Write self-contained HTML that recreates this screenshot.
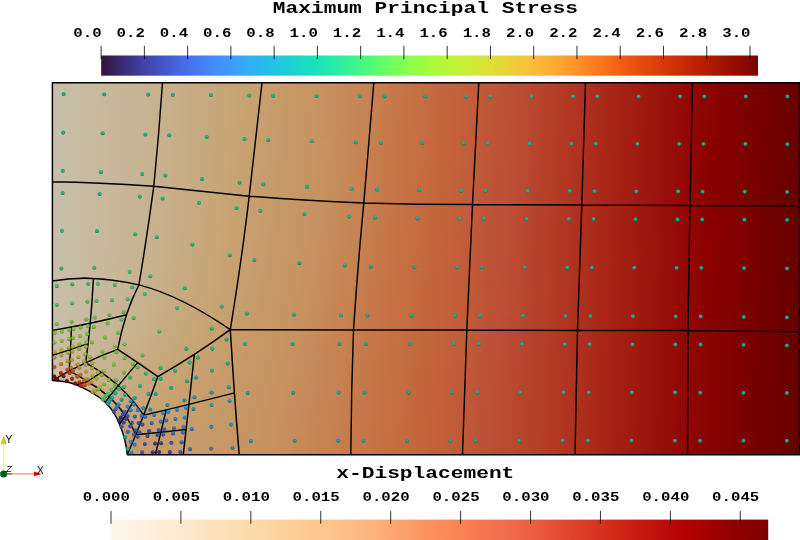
<!DOCTYPE html><html><head><meta charset="utf-8"><title>Maximum Principal Stress</title><style>html,body{margin:0;padding:0;background:#fff;overflow:hidden}svg{display:block}</style></head><body><svg width="800" height="540" viewBox="0 0 800 540">
<defs>
<linearGradient id="gt" x1="0" x2="1" y1="0" y2="0"><stop offset="0.0000" stop-color="#30123b"/><stop offset="0.0312" stop-color="#392a73"/><stop offset="0.0625" stop-color="#4040a2"/><stop offset="0.0938" stop-color="#4456c7"/><stop offset="0.1250" stop-color="#466be3"/><stop offset="0.1562" stop-color="#4680f6"/><stop offset="0.1875" stop-color="#4294ff"/><stop offset="0.2188" stop-color="#37a8fa"/><stop offset="0.2500" stop-color="#28bceb"/><stop offset="0.2812" stop-color="#1ccdd8"/><stop offset="0.3125" stop-color="#18ddc2"/><stop offset="0.3438" stop-color="#1fe9af"/><stop offset="0.3750" stop-color="#32f298"/><stop offset="0.4062" stop-color="#4ef97d"/><stop offset="0.4375" stop-color="#6dfe62"/><stop offset="0.4688" stop-color="#8bff4b"/><stop offset="0.5000" stop-color="#a4fc3c"/><stop offset="0.5312" stop-color="#b9f635"/><stop offset="0.5625" stop-color="#cdec34"/><stop offset="0.5938" stop-color="#dfdf37"/><stop offset="0.6250" stop-color="#eecf3a"/><stop offset="0.6562" stop-color="#f8be39"/><stop offset="0.6875" stop-color="#fdac34"/><stop offset="0.7188" stop-color="#fe962b"/><stop offset="0.7500" stop-color="#fb7e21"/><stop offset="0.7812" stop-color="#f46617"/><stop offset="0.8125" stop-color="#eb500e"/><stop offset="0.8438" stop-color="#df3f08"/><stop offset="0.8750" stop-color="#d02f05"/><stop offset="0.9062" stop-color="#be2102"/><stop offset="0.9375" stop-color="#a91601"/><stop offset="0.9688" stop-color="#920b01"/><stop offset="1.0000" stop-color="#7a0403"/></linearGradient>
<linearGradient id="go" x1="0" x2="1" y1="0" y2="0"><stop offset="0.0000" stop-color="#fff7ec"/><stop offset="0.0312" stop-color="#fff3e3"/><stop offset="0.0625" stop-color="#feefda"/><stop offset="0.0938" stop-color="#feecd1"/><stop offset="0.1250" stop-color="#fee8c8"/><stop offset="0.1562" stop-color="#fee3bd"/><stop offset="0.1875" stop-color="#fddeb3"/><stop offset="0.2188" stop-color="#fdd9a8"/><stop offset="0.2500" stop-color="#fdd49e"/><stop offset="0.2812" stop-color="#fdce97"/><stop offset="0.3125" stop-color="#fdc791"/><stop offset="0.3438" stop-color="#fdc18a"/><stop offset="0.3750" stop-color="#fdba83"/><stop offset="0.4062" stop-color="#fdaf79"/><stop offset="0.4375" stop-color="#fca36e"/><stop offset="0.4688" stop-color="#fc9863"/><stop offset="0.5000" stop-color="#fc8c59"/><stop offset="0.5312" stop-color="#f98254"/><stop offset="0.5625" stop-color="#f57850"/><stop offset="0.5938" stop-color="#f26e4c"/><stop offset="0.6250" stop-color="#ef6447"/><stop offset="0.6562" stop-color="#e9573d"/><stop offset="0.6875" stop-color="#e24933"/><stop offset="0.7188" stop-color="#dc3c28"/><stop offset="0.7500" stop-color="#d62f1e"/><stop offset="0.7812" stop-color="#cd2316"/><stop offset="0.8125" stop-color="#c4170f"/><stop offset="0.8438" stop-color="#bb0b07"/><stop offset="0.8750" stop-color="#b20000"/><stop offset="0.9062" stop-color="#a50000"/><stop offset="0.9375" stop-color="#970000"/><stop offset="0.9688" stop-color="#8a0000"/><stop offset="1.0000" stop-color="#7f0000"/></linearGradient>
<radialGradient id="sh" cx="0.5" cy="0.36" r="0.68" fx="0.5" fy="0.36"><stop offset="0" stop-color="#fff" stop-opacity="0.12"/><stop offset="0.4" stop-color="#fff" stop-opacity="0.0"/><stop offset="0.65" stop-color="#000" stop-opacity="0.08"/><stop offset="1" stop-color="#000" stop-opacity="0.42"/></radialGradient>
<clipPath id="plate"><path d="M52.40 82.80L805.00 82.80L805.00 454.70L127.30 454.70Q121.02 386.73 52.40 380.50Z"/></clipPath>
<linearGradient id="s0" gradientUnits="userSpaceOnUse" x1="52.4" x2="800.0" y1="0" y2="0"><stop offset="0.0000" stop-color="#c8beaa"/><stop offset="0.0319" stop-color="#c8bca4"/><stop offset="0.0638" stop-color="#c8b99e"/><stop offset="0.0956" stop-color="#c8b697"/><stop offset="0.1271" stop-color="#c7b391"/><stop offset="0.1585" stop-color="#c7af89"/><stop offset="0.1898" stop-color="#c7ab82"/><stop offset="0.2208" stop-color="#c7a77a"/><stop offset="0.2518" stop-color="#c7a472"/><stop offset="0.2827" stop-color="#c79f6e"/><stop offset="0.3136" stop-color="#c79968"/><stop offset="0.3445" stop-color="#c79564"/><stop offset="0.4065" stop-color="#c68757"/><stop offset="0.4687" stop-color="#c67547"/><stop offset="0.5314" stop-color="#c3643d"/><stop offset="0.5945" stop-color="#be5537"/><stop offset="0.6579" stop-color="#b7432c"/><stop offset="0.7217" stop-color="#ad2e1d"/><stop offset="0.7857" stop-color="#a11b10"/><stop offset="0.8499" stop-color="#930805"/><stop offset="0.9142" stop-color="#810000"/><stop offset="0.9786" stop-color="#6d0000"/><stop offset="1.0000" stop-color="#660000"/></linearGradient>
<linearGradient id="s1" gradientUnits="userSpaceOnUse" x1="52.4" x2="800.0" y1="0" y2="0"><stop offset="0.0000" stop-color="#c8beaa"/><stop offset="0.0319" stop-color="#c8bca4"/><stop offset="0.0638" stop-color="#c8b99e"/><stop offset="0.0955" stop-color="#c8b697"/><stop offset="0.1270" stop-color="#c7b391"/><stop offset="0.1584" stop-color="#c7af89"/><stop offset="0.1895" stop-color="#c7ab82"/><stop offset="0.2206" stop-color="#c7a77a"/><stop offset="0.2515" stop-color="#c7a472"/><stop offset="0.2823" stop-color="#c79f6e"/><stop offset="0.3132" stop-color="#c79968"/><stop offset="0.3440" stop-color="#c79564"/><stop offset="0.4059" stop-color="#c68757"/><stop offset="0.4682" stop-color="#c67547"/><stop offset="0.5308" stop-color="#c3643d"/><stop offset="0.5939" stop-color="#be5537"/><stop offset="0.6574" stop-color="#b7432c"/><stop offset="0.7212" stop-color="#ad2e1d"/><stop offset="0.7852" stop-color="#a11b10"/><stop offset="0.8495" stop-color="#930805"/><stop offset="0.9138" stop-color="#810000"/><stop offset="0.9783" stop-color="#6d0000"/><stop offset="1.0000" stop-color="#660000"/></linearGradient>
<linearGradient id="s2" gradientUnits="userSpaceOnUse" x1="52.4" x2="800.0" y1="0" y2="0"><stop offset="0.0000" stop-color="#c8beaa"/><stop offset="0.0319" stop-color="#c8bca4"/><stop offset="0.0637" stop-color="#c8b99e"/><stop offset="0.0954" stop-color="#c8b697"/><stop offset="0.1269" stop-color="#c7b391"/><stop offset="0.1582" stop-color="#c7af89"/><stop offset="0.1893" stop-color="#c7ab82"/><stop offset="0.2203" stop-color="#c7a77a"/><stop offset="0.2511" stop-color="#c7a472"/><stop offset="0.2819" stop-color="#c79f6e"/><stop offset="0.3127" stop-color="#c79968"/><stop offset="0.3435" stop-color="#c79564"/><stop offset="0.4053" stop-color="#c68757"/><stop offset="0.4676" stop-color="#c67547"/><stop offset="0.5302" stop-color="#c3643d"/><stop offset="0.5934" stop-color="#be5537"/><stop offset="0.6569" stop-color="#b7432c"/><stop offset="0.7207" stop-color="#ad2e1d"/><stop offset="0.7848" stop-color="#a11b10"/><stop offset="0.8491" stop-color="#930805"/><stop offset="0.9135" stop-color="#810000"/><stop offset="0.9780" stop-color="#6d0000"/><stop offset="1.0000" stop-color="#660000"/></linearGradient>
<linearGradient id="s3" gradientUnits="userSpaceOnUse" x1="52.4" x2="800.0" y1="0" y2="0"><stop offset="0.0000" stop-color="#c8beaa"/><stop offset="0.0319" stop-color="#c8bca4"/><stop offset="0.0637" stop-color="#c8b99e"/><stop offset="0.0954" stop-color="#c8b697"/><stop offset="0.1268" stop-color="#c7b391"/><stop offset="0.1580" stop-color="#c7af89"/><stop offset="0.1891" stop-color="#c7ab82"/><stop offset="0.2199" stop-color="#c7a77a"/><stop offset="0.2507" stop-color="#c7a472"/><stop offset="0.2815" stop-color="#c79f6e"/><stop offset="0.3122" stop-color="#c79968"/><stop offset="0.3429" stop-color="#c79564"/><stop offset="0.4047" stop-color="#c68757"/><stop offset="0.4669" stop-color="#c67547"/><stop offset="0.5296" stop-color="#c3643d"/><stop offset="0.5928" stop-color="#be5537"/><stop offset="0.6563" stop-color="#b7432c"/><stop offset="0.7202" stop-color="#ad2e1d"/><stop offset="0.7844" stop-color="#a11b10"/><stop offset="0.8487" stop-color="#930805"/><stop offset="0.9132" stop-color="#810000"/><stop offset="0.9777" stop-color="#6d0000"/><stop offset="1.0000" stop-color="#660000"/></linearGradient>
<linearGradient id="s4" gradientUnits="userSpaceOnUse" x1="52.4" x2="800.0" y1="0" y2="0"><stop offset="0.0000" stop-color="#c8beaa"/><stop offset="0.0319" stop-color="#c8bca4"/><stop offset="0.0637" stop-color="#c8b99e"/><stop offset="0.0953" stop-color="#c8b697"/><stop offset="0.1267" stop-color="#c7b391"/><stop offset="0.1578" stop-color="#c7af89"/><stop offset="0.1888" stop-color="#c7ab82"/><stop offset="0.2196" stop-color="#c7a77a"/><stop offset="0.2503" stop-color="#c7a472"/><stop offset="0.2810" stop-color="#c79e6d"/><stop offset="0.3116" stop-color="#c79968"/><stop offset="0.3424" stop-color="#c79564"/><stop offset="0.4041" stop-color="#c68757"/><stop offset="0.4663" stop-color="#c67547"/><stop offset="0.5290" stop-color="#c3643d"/><stop offset="0.5922" stop-color="#be5537"/><stop offset="0.6558" stop-color="#b7432c"/><stop offset="0.7197" stop-color="#ad2e1d"/><stop offset="0.7839" stop-color="#a11b10"/><stop offset="0.8483" stop-color="#930805"/><stop offset="0.9128" stop-color="#810000"/><stop offset="0.9774" stop-color="#6d0000"/><stop offset="1.0000" stop-color="#660000"/></linearGradient>
<linearGradient id="s5" gradientUnits="userSpaceOnUse" x1="52.4" x2="800.0" y1="0" y2="0"><stop offset="0.0000" stop-color="#c8beaa"/><stop offset="0.0319" stop-color="#c8bca4"/><stop offset="0.0636" stop-color="#c8b99e"/><stop offset="0.0952" stop-color="#c8b697"/><stop offset="0.1265" stop-color="#c7b391"/><stop offset="0.1576" stop-color="#c7af89"/><stop offset="0.1885" stop-color="#c7ab82"/><stop offset="0.2192" stop-color="#c7a77a"/><stop offset="0.2498" stop-color="#c7a472"/><stop offset="0.2804" stop-color="#c79e6d"/><stop offset="0.3110" stop-color="#c79968"/><stop offset="0.3417" stop-color="#c79564"/><stop offset="0.4034" stop-color="#c68757"/><stop offset="0.4656" stop-color="#c67547"/><stop offset="0.5283" stop-color="#c3643d"/><stop offset="0.5916" stop-color="#be5537"/><stop offset="0.6552" stop-color="#b7432c"/><stop offset="0.7192" stop-color="#ad2e1d"/><stop offset="0.7835" stop-color="#a11b10"/><stop offset="0.8479" stop-color="#930805"/><stop offset="0.9125" stop-color="#810000"/><stop offset="0.9771" stop-color="#6d0000"/><stop offset="1.0000" stop-color="#660000"/></linearGradient>
<linearGradient id="s6" gradientUnits="userSpaceOnUse" x1="52.4" x2="800.0" y1="0" y2="0"><stop offset="0.0000" stop-color="#c8beaa"/><stop offset="0.0318" stop-color="#c8bca4"/><stop offset="0.0636" stop-color="#c8b99e"/><stop offset="0.0951" stop-color="#c8b697"/><stop offset="0.1263" stop-color="#c7b391"/><stop offset="0.1574" stop-color="#c7af89"/><stop offset="0.1882" stop-color="#c7ab82"/><stop offset="0.2188" stop-color="#c7a77a"/><stop offset="0.2493" stop-color="#c7a472"/><stop offset="0.2799" stop-color="#c79e6d"/><stop offset="0.3104" stop-color="#c79968"/><stop offset="0.3410" stop-color="#c79564"/><stop offset="0.4027" stop-color="#c68757"/><stop offset="0.4648" stop-color="#c67547"/><stop offset="0.5276" stop-color="#c3643d"/><stop offset="0.5909" stop-color="#be5537"/><stop offset="0.6546" stop-color="#b7432c"/><stop offset="0.7187" stop-color="#ad2e1d"/><stop offset="0.7830" stop-color="#a11b10"/><stop offset="0.8475" stop-color="#930805"/><stop offset="0.9121" stop-color="#810000"/><stop offset="0.9768" stop-color="#6d0000"/><stop offset="1.0000" stop-color="#660000"/></linearGradient>
<linearGradient id="s7" gradientUnits="userSpaceOnUse" x1="52.4" x2="800.0" y1="0" y2="0"><stop offset="0.0000" stop-color="#c8beaa"/><stop offset="0.0318" stop-color="#c8bca4"/><stop offset="0.0635" stop-color="#c8b99e"/><stop offset="0.0950" stop-color="#c8b697"/><stop offset="0.1262" stop-color="#c7b391"/><stop offset="0.1571" stop-color="#c7af89"/><stop offset="0.1878" stop-color="#c7ab82"/><stop offset="0.2183" stop-color="#c7a77a"/><stop offset="0.2488" stop-color="#c7a472"/><stop offset="0.2793" stop-color="#c79e6d"/><stop offset="0.3097" stop-color="#c79968"/><stop offset="0.3403" stop-color="#c79564"/><stop offset="0.3710" stop-color="#c7905f"/><stop offset="0.4329" stop-color="#c67e4f"/><stop offset="0.4954" stop-color="#c66c40"/><stop offset="0.5585" stop-color="#c15d3a"/><stop offset="0.6221" stop-color="#bb4d33"/><stop offset="0.6861" stop-color="#b23824"/><stop offset="0.7503" stop-color="#a82416"/><stop offset="0.8148" stop-color="#9a120b"/><stop offset="0.8794" stop-color="#8b0000"/><stop offset="0.9441" stop-color="#770000"/><stop offset="1.0000" stop-color="#660000"/></linearGradient>
<linearGradient id="s8" gradientUnits="userSpaceOnUse" x1="52.4" x2="800.0" y1="0" y2="0"><stop offset="0.0000" stop-color="#c8beaa"/><stop offset="0.0318" stop-color="#c8bca4"/><stop offset="0.0634" stop-color="#c8b99e"/><stop offset="0.0948" stop-color="#c8b697"/><stop offset="0.1259" stop-color="#c7b391"/><stop offset="0.1568" stop-color="#c7af89"/><stop offset="0.1874" stop-color="#c7ab82"/><stop offset="0.2178" stop-color="#c7a77a"/><stop offset="0.2482" stop-color="#c7a472"/><stop offset="0.2786" stop-color="#c79e6d"/><stop offset="0.3090" stop-color="#c79968"/><stop offset="0.3396" stop-color="#c79564"/><stop offset="0.3702" stop-color="#c7905f"/><stop offset="0.4321" stop-color="#c67e4f"/><stop offset="0.4946" stop-color="#c66c40"/><stop offset="0.5578" stop-color="#c15d3a"/><stop offset="0.6215" stop-color="#bb4d33"/><stop offset="0.6855" stop-color="#b23824"/><stop offset="0.7498" stop-color="#a82416"/><stop offset="0.8144" stop-color="#9a120b"/><stop offset="0.8790" stop-color="#8b0000"/><stop offset="0.9438" stop-color="#770000"/><stop offset="1.0000" stop-color="#660000"/></linearGradient>
<linearGradient id="s9" gradientUnits="userSpaceOnUse" x1="52.4" x2="800.0" y1="0" y2="0"><stop offset="0.0000" stop-color="#c8beaa"/><stop offset="0.0318" stop-color="#c8bca4"/><stop offset="0.0634" stop-color="#c8b99e"/><stop offset="0.0947" stop-color="#c8b697"/><stop offset="0.1257" stop-color="#c7b391"/><stop offset="0.1565" stop-color="#c7af89"/><stop offset="0.1870" stop-color="#c7ab82"/><stop offset="0.2173" stop-color="#c7a77a"/><stop offset="0.2476" stop-color="#c7a372"/><stop offset="0.2779" stop-color="#c79e6d"/><stop offset="0.3083" stop-color="#c79968"/><stop offset="0.3388" stop-color="#c79564"/><stop offset="0.3694" stop-color="#c7905f"/><stop offset="0.4313" stop-color="#c67e4f"/><stop offset="0.4938" stop-color="#c66c40"/><stop offset="0.5571" stop-color="#c15d3a"/><stop offset="0.6208" stop-color="#bb4d33"/><stop offset="0.6849" stop-color="#b23824"/><stop offset="0.7493" stop-color="#a82416"/><stop offset="0.8139" stop-color="#9a120b"/><stop offset="0.8787" stop-color="#8b0000"/><stop offset="0.9435" stop-color="#770000"/><stop offset="1.0000" stop-color="#660000"/></linearGradient>
<linearGradient id="s10" gradientUnits="userSpaceOnUse" x1="52.4" x2="800.0" y1="0" y2="0"><stop offset="0.0000" stop-color="#c8beaa"/><stop offset="0.0317" stop-color="#c8bca4"/><stop offset="0.0633" stop-color="#c8b99e"/><stop offset="0.0945" stop-color="#c8b697"/><stop offset="0.1255" stop-color="#c7b391"/><stop offset="0.1561" stop-color="#c7af89"/><stop offset="0.1865" stop-color="#c7ab82"/><stop offset="0.2167" stop-color="#c7a77a"/><stop offset="0.2469" stop-color="#c7a372"/><stop offset="0.2771" stop-color="#c79e6d"/><stop offset="0.3074" stop-color="#c79968"/><stop offset="0.3379" stop-color="#c79564"/><stop offset="0.3685" stop-color="#c7905f"/><stop offset="0.4304" stop-color="#c67e4f"/><stop offset="0.4930" stop-color="#c66c40"/><stop offset="0.5563" stop-color="#c15d3a"/><stop offset="0.6201" stop-color="#bb4d33"/><stop offset="0.6843" stop-color="#b23824"/><stop offset="0.7488" stop-color="#a82416"/><stop offset="0.8135" stop-color="#9a120b"/><stop offset="0.8783" stop-color="#8b0000"/><stop offset="0.9431" stop-color="#770000"/><stop offset="1.0000" stop-color="#650000"/></linearGradient>
<linearGradient id="s11" gradientUnits="userSpaceOnUse" x1="52.4" x2="800.0" y1="0" y2="0"><stop offset="0.0000" stop-color="#c8beaa"/><stop offset="0.0317" stop-color="#c8bca4"/><stop offset="0.0632" stop-color="#c8b99e"/><stop offset="0.0943" stop-color="#c8b697"/><stop offset="0.1252" stop-color="#c7b391"/><stop offset="0.1557" stop-color="#c7af89"/><stop offset="0.1860" stop-color="#c7ab82"/><stop offset="0.2161" stop-color="#c7a77a"/><stop offset="0.2462" stop-color="#c7a372"/><stop offset="0.2763" stop-color="#c79e6d"/><stop offset="0.3066" stop-color="#c79968"/><stop offset="0.3370" stop-color="#c79564"/><stop offset="0.3676" stop-color="#c7905f"/><stop offset="0.4295" stop-color="#c67e4f"/><stop offset="0.4922" stop-color="#c66c40"/><stop offset="0.5555" stop-color="#c15d3a"/><stop offset="0.6195" stop-color="#bb4d33"/><stop offset="0.6838" stop-color="#b23824"/><stop offset="0.7483" stop-color="#a82416"/><stop offset="0.8131" stop-color="#9a120b"/><stop offset="0.8779" stop-color="#8b0000"/><stop offset="0.9428" stop-color="#770000"/><stop offset="1.0000" stop-color="#650000"/></linearGradient>
<linearGradient id="s12" gradientUnits="userSpaceOnUse" x1="52.4" x2="800.0" y1="0" y2="0"><stop offset="0.0000" stop-color="#c8beaa"/><stop offset="0.0316" stop-color="#c8bca4"/><stop offset="0.0631" stop-color="#c8b99e"/><stop offset="0.0941" stop-color="#c8b697"/><stop offset="0.1249" stop-color="#c7b391"/><stop offset="0.1552" stop-color="#c7af89"/><stop offset="0.1854" stop-color="#c7ab82"/><stop offset="0.2154" stop-color="#c7a77a"/><stop offset="0.2454" stop-color="#c7a372"/><stop offset="0.2754" stop-color="#c79e6d"/><stop offset="0.3056" stop-color="#c79968"/><stop offset="0.3360" stop-color="#c79564"/><stop offset="0.3666" stop-color="#c7905f"/><stop offset="0.4285" stop-color="#c67e4f"/><stop offset="0.4913" stop-color="#c66c40"/><stop offset="0.5547" stop-color="#c15d3a"/><stop offset="0.6188" stop-color="#bb4d33"/><stop offset="0.6831" stop-color="#b23824"/><stop offset="0.7478" stop-color="#a82416"/><stop offset="0.8126" stop-color="#9a120b"/><stop offset="0.8775" stop-color="#8b0000"/><stop offset="0.9425" stop-color="#770000"/><stop offset="1.0000" stop-color="#650000"/></linearGradient>
<linearGradient id="s13" gradientUnits="userSpaceOnUse" x1="52.4" x2="800.0" y1="0" y2="0"><stop offset="0.0000" stop-color="#c8beaa"/><stop offset="0.0316" stop-color="#c8bca4"/><stop offset="0.0629" stop-color="#c8b99e"/><stop offset="0.0939" stop-color="#c8b697"/><stop offset="0.1245" stop-color="#c7b391"/><stop offset="0.1547" stop-color="#c7af89"/><stop offset="0.1847" stop-color="#c7ab82"/><stop offset="0.2146" stop-color="#c7a77a"/><stop offset="0.2445" stop-color="#c7a372"/><stop offset="0.2745" stop-color="#c79e6d"/><stop offset="0.3046" stop-color="#c79968"/><stop offset="0.3350" stop-color="#c79564"/><stop offset="0.3656" stop-color="#c7905f"/><stop offset="0.4275" stop-color="#c67e4f"/><stop offset="0.4903" stop-color="#c66c40"/><stop offset="0.5539" stop-color="#c15d3a"/><stop offset="0.6180" stop-color="#bb4d33"/><stop offset="0.6825" stop-color="#b23824"/><stop offset="0.7473" stop-color="#a82416"/><stop offset="0.8122" stop-color="#9a120b"/><stop offset="0.8771" stop-color="#8b0000"/><stop offset="0.9421" stop-color="#770000"/><stop offset="1.0000" stop-color="#650000"/></linearGradient>
<linearGradient id="s14" gradientUnits="userSpaceOnUse" x1="52.4" x2="800.0" y1="0" y2="0"><stop offset="0.0000" stop-color="#c8beaa"/><stop offset="0.0315" stop-color="#c8bca4"/><stop offset="0.0628" stop-color="#c8b99e"/><stop offset="0.0937" stop-color="#c8b697"/><stop offset="0.1241" stop-color="#c7b391"/><stop offset="0.1542" stop-color="#c7af89"/><stop offset="0.1840" stop-color="#c7ab82"/><stop offset="0.2138" stop-color="#c7a779"/><stop offset="0.2436" stop-color="#c7a372"/><stop offset="0.2734" stop-color="#c79e6d"/><stop offset="0.3035" stop-color="#c79968"/><stop offset="0.3338" stop-color="#c79564"/><stop offset="0.3644" stop-color="#c7905f"/><stop offset="0.4264" stop-color="#c67e4f"/><stop offset="0.4894" stop-color="#c66c40"/><stop offset="0.5531" stop-color="#c15d3a"/><stop offset="0.6173" stop-color="#bb4d33"/><stop offset="0.6819" stop-color="#b23824"/><stop offset="0.7468" stop-color="#a82416"/><stop offset="0.8117" stop-color="#9a120b"/><stop offset="0.8768" stop-color="#8b0000"/><stop offset="0.9418" stop-color="#780000"/><stop offset="1.0000" stop-color="#650000"/></linearGradient>
<linearGradient id="s15" gradientUnits="userSpaceOnUse" x1="52.4" x2="800.0" y1="0" y2="0"><stop offset="0.0000" stop-color="#c8beaa"/><stop offset="0.0314" stop-color="#c8bca4"/><stop offset="0.0626" stop-color="#c8b99e"/><stop offset="0.0934" stop-color="#c8b697"/><stop offset="0.1237" stop-color="#c7b391"/><stop offset="0.1536" stop-color="#c7af89"/><stop offset="0.1833" stop-color="#c7ab82"/><stop offset="0.2129" stop-color="#c7a779"/><stop offset="0.2425" stop-color="#c7a372"/><stop offset="0.2723" stop-color="#c79e6d"/><stop offset="0.3024" stop-color="#c79968"/><stop offset="0.3327" stop-color="#c79564"/><stop offset="0.3633" stop-color="#c7905f"/><stop offset="0.4253" stop-color="#c67e4f"/><stop offset="0.4884" stop-color="#c66c40"/><stop offset="0.5522" stop-color="#c15d3a"/><stop offset="0.6166" stop-color="#bb4d33"/><stop offset="0.6813" stop-color="#b23824"/><stop offset="0.7462" stop-color="#a82416"/><stop offset="0.8113" stop-color="#9a120b"/><stop offset="0.8764" stop-color="#8b0000"/><stop offset="0.9415" stop-color="#780000"/><stop offset="1.0000" stop-color="#650000"/></linearGradient>
<linearGradient id="s16" gradientUnits="userSpaceOnUse" x1="52.4" x2="800.0" y1="0" y2="0"><stop offset="0.0000" stop-color="#c8beaa"/><stop offset="0.0314" stop-color="#c8bca4"/><stop offset="0.0624" stop-color="#c8b99e"/><stop offset="0.0930" stop-color="#c8b697"/><stop offset="0.1232" stop-color="#c7b391"/><stop offset="0.1529" stop-color="#c7af89"/><stop offset="0.1824" stop-color="#c7ab82"/><stop offset="0.2119" stop-color="#c7a779"/><stop offset="0.2414" stop-color="#c7a372"/><stop offset="0.2711" stop-color="#c79e6d"/><stop offset="0.3011" stop-color="#c79968"/><stop offset="0.3314" stop-color="#c79564"/><stop offset="0.3620" stop-color="#c7905f"/><stop offset="0.4242" stop-color="#c67e4f"/><stop offset="0.4874" stop-color="#c66c40"/><stop offset="0.5513" stop-color="#c15d3a"/><stop offset="0.6158" stop-color="#bb4d33"/><stop offset="0.6807" stop-color="#b23824"/><stop offset="0.7457" stop-color="#a82416"/><stop offset="0.8108" stop-color="#9a120b"/><stop offset="0.8760" stop-color="#8b0000"/><stop offset="0.9412" stop-color="#780000"/><stop offset="1.0000" stop-color="#650000"/></linearGradient>
<linearGradient id="s17" gradientUnits="userSpaceOnUse" x1="52.4" x2="800.0" y1="0" y2="0"><stop offset="0.0000" stop-color="#c8beaa"/><stop offset="0.0313" stop-color="#c8bca4"/><stop offset="0.0622" stop-color="#c8b99e"/><stop offset="0.0926" stop-color="#c8b697"/><stop offset="0.1226" stop-color="#c7b391"/><stop offset="0.1521" stop-color="#c7af89"/><stop offset="0.1815" stop-color="#c7ab82"/><stop offset="0.2108" stop-color="#c7a779"/><stop offset="0.2402" stop-color="#c7a372"/><stop offset="0.2698" stop-color="#c79e6d"/><stop offset="0.2998" stop-color="#c79968"/><stop offset="0.3301" stop-color="#c79564"/><stop offset="0.3607" stop-color="#c7905f"/><stop offset="0.4230" stop-color="#c67e4f"/><stop offset="0.4863" stop-color="#c66c40"/><stop offset="0.5504" stop-color="#c15d3a"/><stop offset="0.6151" stop-color="#bb4d33"/><stop offset="0.6800" stop-color="#b23824"/><stop offset="0.7452" stop-color="#a82416"/><stop offset="0.8104" stop-color="#9a120b"/><stop offset="0.8756" stop-color="#8d0000"/><stop offset="0.9409" stop-color="#780000"/><stop offset="1.0000" stop-color="#650000"/></linearGradient>
<linearGradient id="s18" gradientUnits="userSpaceOnUse" x1="52.4" x2="800.0" y1="0" y2="0"><stop offset="0.0000" stop-color="#c8beaa"/><stop offset="0.0311" stop-color="#c8bca4"/><stop offset="0.0619" stop-color="#c8b99e"/><stop offset="0.0922" stop-color="#c8b697"/><stop offset="0.1219" stop-color="#c7b391"/><stop offset="0.1513" stop-color="#c7af89"/><stop offset="0.1804" stop-color="#c7ab82"/><stop offset="0.2096" stop-color="#c7a779"/><stop offset="0.2389" stop-color="#c7a372"/><stop offset="0.2685" stop-color="#c79e6d"/><stop offset="0.2984" stop-color="#c79968"/><stop offset="0.3287" stop-color="#c79564"/><stop offset="0.3593" stop-color="#c7905f"/><stop offset="0.4217" stop-color="#c67e4f"/><stop offset="0.4852" stop-color="#c66c40"/><stop offset="0.5495" stop-color="#c15d3a"/><stop offset="0.6143" stop-color="#bb4d33"/><stop offset="0.6794" stop-color="#b23824"/><stop offset="0.7446" stop-color="#a82416"/><stop offset="0.8099" stop-color="#9a120b"/><stop offset="0.8753" stop-color="#8d0000"/><stop offset="0.9406" stop-color="#780000"/><stop offset="1.0000" stop-color="#650000"/></linearGradient>
<linearGradient id="s19" gradientUnits="userSpaceOnUse" x1="52.4" x2="800.0" y1="0" y2="0"><stop offset="0.0000" stop-color="#c8beaa"/><stop offset="0.0311" stop-color="#c8bca4"/><stop offset="0.0617" stop-color="#c8b99e"/><stop offset="0.0918" stop-color="#c8b697"/><stop offset="0.1214" stop-color="#c7b391"/><stop offset="0.1506" stop-color="#c7af89"/><stop offset="0.1796" stop-color="#c7ab81"/><stop offset="0.2086" stop-color="#c7a779"/><stop offset="0.2378" stop-color="#c7a372"/><stop offset="0.2673" stop-color="#c79e6d"/><stop offset="0.2972" stop-color="#c79968"/><stop offset="0.3275" stop-color="#c79564"/><stop offset="0.3582" stop-color="#c7905f"/><stop offset="0.4207" stop-color="#c67e4f"/><stop offset="0.4844" stop-color="#c66c40"/><stop offset="0.5488" stop-color="#c15d3a"/><stop offset="0.6137" stop-color="#bb4d33"/><stop offset="0.6789" stop-color="#b23824"/><stop offset="0.7442" stop-color="#a82416"/><stop offset="0.8096" stop-color="#9b130b"/><stop offset="0.8750" stop-color="#8d0000"/><stop offset="0.9403" stop-color="#780000"/><stop offset="1.0000" stop-color="#650000"/></linearGradient>
<linearGradient id="s20" gradientUnits="userSpaceOnUse" x1="52.4" x2="800.0" y1="0" y2="0"><stop offset="0.0000" stop-color="#c8beaa"/><stop offset="0.0310" stop-color="#c8bca4"/><stop offset="0.0616" stop-color="#c8b99e"/><stop offset="0.0916" stop-color="#c8b697"/><stop offset="0.1210" stop-color="#c7b391"/><stop offset="0.1501" stop-color="#c7af89"/><stop offset="0.1790" stop-color="#c7ab81"/><stop offset="0.2079" stop-color="#c7a779"/><stop offset="0.2371" stop-color="#c7a372"/><stop offset="0.2666" stop-color="#c79e6d"/><stop offset="0.2964" stop-color="#c79968"/><stop offset="0.3268" stop-color="#c79564"/><stop offset="0.3575" stop-color="#c7905f"/><stop offset="0.4201" stop-color="#c67e4f"/><stop offset="0.4838" stop-color="#c66c40"/><stop offset="0.5483" stop-color="#c15d3a"/><stop offset="0.6133" stop-color="#bb4d33"/><stop offset="0.6786" stop-color="#b23824"/><stop offset="0.7440" stop-color="#a82416"/><stop offset="0.8094" stop-color="#9b130b"/><stop offset="0.8748" stop-color="#8d0000"/><stop offset="0.9402" stop-color="#780000"/><stop offset="1.0000" stop-color="#650000"/></linearGradient>
<linearGradient id="s21" gradientUnits="userSpaceOnUse" x1="52.4" x2="800.0" y1="0" y2="0"><stop offset="0.0000" stop-color="#c8beaa"/><stop offset="0.0309" stop-color="#c8bca4"/><stop offset="0.0614" stop-color="#c8b99e"/><stop offset="0.0913" stop-color="#c8b697"/><stop offset="0.1206" stop-color="#c7b391"/><stop offset="0.1496" stop-color="#c7af89"/><stop offset="0.1783" stop-color="#c7ab81"/><stop offset="0.2072" stop-color="#c7a779"/><stop offset="0.2363" stop-color="#c7a372"/><stop offset="0.2658" stop-color="#c79e6d"/><stop offset="0.2956" stop-color="#c79968"/><stop offset="0.3260" stop-color="#c79564"/><stop offset="0.3567" stop-color="#c7905f"/><stop offset="0.4194" stop-color="#c67e4f"/><stop offset="0.4832" stop-color="#c66c40"/><stop offset="0.5479" stop-color="#c15d3a"/><stop offset="0.6129" stop-color="#bb4d33"/><stop offset="0.6783" stop-color="#b23824"/><stop offset="0.7437" stop-color="#a82416"/><stop offset="0.8092" stop-color="#9b130b"/><stop offset="0.8746" stop-color="#8d0000"/><stop offset="0.9400" stop-color="#780000"/><stop offset="1.0000" stop-color="#650000"/></linearGradient>
<linearGradient id="s22" gradientUnits="userSpaceOnUse" x1="52.4" x2="800.0" y1="0" y2="0"><stop offset="0.0000" stop-color="#c8beaa"/><stop offset="0.0308" stop-color="#c8bca4"/><stop offset="0.0612" stop-color="#c8b99e"/><stop offset="0.0910" stop-color="#c8b697"/><stop offset="0.1202" stop-color="#c7b391"/><stop offset="0.1490" stop-color="#c7af89"/><stop offset="0.1777" stop-color="#c7ab81"/><stop offset="0.2064" stop-color="#c7a779"/><stop offset="0.2355" stop-color="#c7a372"/><stop offset="0.2649" stop-color="#c79e6d"/><stop offset="0.2948" stop-color="#c79968"/><stop offset="0.3251" stop-color="#c79564"/><stop offset="0.3559" stop-color="#c7905f"/><stop offset="0.4187" stop-color="#c67e4f"/><stop offset="0.4827" stop-color="#c66c40"/><stop offset="0.5474" stop-color="#c15d3a"/><stop offset="0.6126" stop-color="#bb4d33"/><stop offset="0.6780" stop-color="#b23824"/><stop offset="0.7435" stop-color="#a82416"/><stop offset="0.8090" stop-color="#9b130b"/><stop offset="0.8745" stop-color="#8d0000"/><stop offset="0.9399" stop-color="#780000"/><stop offset="1.0000" stop-color="#650000"/></linearGradient>
<linearGradient id="s23" gradientUnits="userSpaceOnUse" x1="52.4" x2="800.0" y1="0" y2="0"><stop offset="0.0000" stop-color="#c8beaa"/><stop offset="0.0307" stop-color="#c8bca4"/><stop offset="0.0610" stop-color="#c8b99e"/><stop offset="0.0907" stop-color="#c8b697"/><stop offset="0.1197" stop-color="#c7b391"/><stop offset="0.1484" stop-color="#c7af89"/><stop offset="0.1770" stop-color="#c7ab81"/><stop offset="0.2056" stop-color="#c7a779"/><stop offset="0.2346" stop-color="#c7a372"/><stop offset="0.2640" stop-color="#c79e6d"/><stop offset="0.2939" stop-color="#c79968"/><stop offset="0.3243" stop-color="#c79564"/><stop offset="0.3551" stop-color="#c7905f"/><stop offset="0.4180" stop-color="#c67e4f"/><stop offset="0.4821" stop-color="#c66c40"/><stop offset="0.5469" stop-color="#c15d3a"/><stop offset="0.6122" stop-color="#bb4d33"/><stop offset="0.6776" stop-color="#b23824"/><stop offset="0.7432" stop-color="#a92517"/><stop offset="0.8088" stop-color="#9b130b"/><stop offset="0.8743" stop-color="#8d0000"/><stop offset="0.9397" stop-color="#780000"/><stop offset="1.0000" stop-color="#650000"/></linearGradient>
<linearGradient id="s24" gradientUnits="userSpaceOnUse" x1="52.4" x2="800.0" y1="0" y2="0"><stop offset="0.0000" stop-color="#c8beaa"/><stop offset="0.0306" stop-color="#c8bca4"/><stop offset="0.0608" stop-color="#c8b99e"/><stop offset="0.0903" stop-color="#c8b697"/><stop offset="0.1192" stop-color="#c7b391"/><stop offset="0.1478" stop-color="#c7af89"/><stop offset="0.1762" stop-color="#c7ab81"/><stop offset="0.2048" stop-color="#c7a779"/><stop offset="0.2337" stop-color="#c7a372"/><stop offset="0.2631" stop-color="#c79e6d"/><stop offset="0.2930" stop-color="#c79968"/><stop offset="0.3234" stop-color="#c79564"/><stop offset="0.3543" stop-color="#c7905f"/><stop offset="0.4173" stop-color="#c67e4f"/><stop offset="0.4815" stop-color="#c66c40"/><stop offset="0.5464" stop-color="#c15d3a"/><stop offset="0.6118" stop-color="#bb4d33"/><stop offset="0.6773" stop-color="#b23824"/><stop offset="0.7429" stop-color="#a92517"/><stop offset="0.8085" stop-color="#9b130b"/><stop offset="0.8741" stop-color="#8d0000"/><stop offset="0.9396" stop-color="#780000"/><stop offset="1.0000" stop-color="#650000"/></linearGradient>
<linearGradient id="s25" gradientUnits="userSpaceOnUse" x1="52.4" x2="800.0" y1="0" y2="0"><stop offset="0.0000" stop-color="#c8beaa"/><stop offset="0.0305" stop-color="#c8bca4"/><stop offset="0.0606" stop-color="#c8b99e"/><stop offset="0.0899" stop-color="#c8b697"/><stop offset="0.1187" stop-color="#c7b391"/><stop offset="0.1471" stop-color="#c7af89"/><stop offset="0.1754" stop-color="#c7ab81"/><stop offset="0.2039" stop-color="#c7a779"/><stop offset="0.2328" stop-color="#c7a372"/><stop offset="0.2622" stop-color="#c79e6d"/><stop offset="0.2921" stop-color="#c79968"/><stop offset="0.3225" stop-color="#c79564"/><stop offset="0.3534" stop-color="#c7905f"/><stop offset="0.4165" stop-color="#c67e4f"/><stop offset="0.4809" stop-color="#c66c40"/><stop offset="0.5459" stop-color="#c15d3a"/><stop offset="0.6114" stop-color="#bb4d33"/><stop offset="0.6770" stop-color="#b23824"/><stop offset="0.7427" stop-color="#a92517"/><stop offset="0.8083" stop-color="#9b130b"/><stop offset="0.8739" stop-color="#8d0000"/><stop offset="0.9394" stop-color="#780000"/><stop offset="1.0000" stop-color="#650000"/></linearGradient>
<linearGradient id="s26" gradientUnits="userSpaceOnUse" x1="52.4" x2="800.0" y1="0" y2="0"><stop offset="0.0000" stop-color="#c8beaa"/><stop offset="0.0304" stop-color="#c8bca4"/><stop offset="0.0603" stop-color="#c8b99e"/><stop offset="0.0895" stop-color="#c8b697"/><stop offset="0.1181" stop-color="#c7b391"/><stop offset="0.1464" stop-color="#c7af89"/><stop offset="0.1746" stop-color="#c7ab81"/><stop offset="0.2030" stop-color="#c7a779"/><stop offset="0.2319" stop-color="#c7a372"/><stop offset="0.2612" stop-color="#c79e6d"/><stop offset="0.2911" stop-color="#c79968"/><stop offset="0.3216" stop-color="#c79564"/><stop offset="0.3526" stop-color="#c7905f"/><stop offset="0.4158" stop-color="#c67e4f"/><stop offset="0.4803" stop-color="#c66c40"/><stop offset="0.5454" stop-color="#c15d3a"/><stop offset="0.6110" stop-color="#bb4d33"/><stop offset="0.6767" stop-color="#b23824"/><stop offset="0.7424" stop-color="#a92517"/><stop offset="0.8081" stop-color="#9b130b"/><stop offset="0.8738" stop-color="#8d0000"/><stop offset="0.9393" stop-color="#780000"/><stop offset="1.0000" stop-color="#650000"/></linearGradient>
<linearGradient id="s27" gradientUnits="userSpaceOnUse" x1="52.4" x2="800.0" y1="0" y2="0"><stop offset="0.0000" stop-color="#c8beaa"/><stop offset="0.0303" stop-color="#c8bca4"/><stop offset="0.0600" stop-color="#c8b99e"/><stop offset="0.0891" stop-color="#c8b697"/><stop offset="0.1175" stop-color="#c7b391"/><stop offset="0.1456" stop-color="#c7af89"/><stop offset="0.1737" stop-color="#c7ab81"/><stop offset="0.2021" stop-color="#c7a779"/><stop offset="0.2309" stop-color="#c7a372"/><stop offset="0.2602" stop-color="#c79e6d"/><stop offset="0.2901" stop-color="#c79968"/><stop offset="0.3206" stop-color="#c79564"/><stop offset="0.3517" stop-color="#c7905f"/><stop offset="0.4150" stop-color="#c67e4f"/><stop offset="0.4796" stop-color="#c66c40"/><stop offset="0.5449" stop-color="#c15d3a"/><stop offset="0.6106" stop-color="#bb4d33"/><stop offset="0.6764" stop-color="#b23824"/><stop offset="0.7422" stop-color="#a92517"/><stop offset="0.8079" stop-color="#9b130b"/><stop offset="0.8736" stop-color="#8d0000"/><stop offset="0.9392" stop-color="#780000"/><stop offset="1.0000" stop-color="#650000"/></linearGradient>
<linearGradient id="s28" gradientUnits="userSpaceOnUse" x1="52.4" x2="800.0" y1="0" y2="0"><stop offset="0.0000" stop-color="#c8beaa"/><stop offset="0.0301" stop-color="#c8bca4"/><stop offset="0.0597" stop-color="#c8b99e"/><stop offset="0.0886" stop-color="#c8b697"/><stop offset="0.1169" stop-color="#c7b391"/><stop offset="0.1448" stop-color="#c7af88"/><stop offset="0.1728" stop-color="#c7ab81"/><stop offset="0.2011" stop-color="#c7a779"/><stop offset="0.2298" stop-color="#c7a372"/><stop offset="0.2591" stop-color="#c79e6d"/><stop offset="0.2891" stop-color="#c79968"/><stop offset="0.3196" stop-color="#c79564"/><stop offset="0.3507" stop-color="#c7905f"/><stop offset="0.4143" stop-color="#c67e4f"/><stop offset="0.4790" stop-color="#c66c40"/><stop offset="0.5444" stop-color="#c15d3a"/><stop offset="0.6102" stop-color="#bb4d33"/><stop offset="0.6761" stop-color="#b23a25"/><stop offset="0.7419" stop-color="#a92517"/><stop offset="0.8077" stop-color="#9b130b"/><stop offset="0.8734" stop-color="#8d0000"/><stop offset="0.9390" stop-color="#780000"/><stop offset="1.0000" stop-color="#650000"/></linearGradient>
<linearGradient id="s29" gradientUnits="userSpaceOnUse" x1="52.4" x2="800.0" y1="0" y2="0"><stop offset="0.0000" stop-color="#c8beaa"/><stop offset="0.0300" stop-color="#c8bca4"/><stop offset="0.0594" stop-color="#c8b99e"/><stop offset="0.0881" stop-color="#c8b697"/><stop offset="0.1162" stop-color="#c7b391"/><stop offset="0.1440" stop-color="#c7af88"/><stop offset="0.1718" stop-color="#c7ab81"/><stop offset="0.2000" stop-color="#c7a779"/><stop offset="0.2287" stop-color="#c7a372"/><stop offset="0.2580" stop-color="#c79e6d"/><stop offset="0.2880" stop-color="#c79968"/><stop offset="0.3186" stop-color="#c79564"/><stop offset="0.3498" stop-color="#c7905f"/><stop offset="0.4135" stop-color="#c67e4f"/><stop offset="0.4784" stop-color="#c66c40"/><stop offset="0.5439" stop-color="#c15d3a"/><stop offset="0.6098" stop-color="#bb4d33"/><stop offset="0.6757" stop-color="#b23a25"/><stop offset="0.7417" stop-color="#a92517"/><stop offset="0.8075" stop-color="#9b130b"/><stop offset="0.8732" stop-color="#8d0000"/><stop offset="0.9389" stop-color="#780000"/><stop offset="1.0000" stop-color="#650000"/></linearGradient>
<linearGradient id="s30" gradientUnits="userSpaceOnUse" x1="52.4" x2="800.0" y1="0" y2="0"><stop offset="0.0000" stop-color="#c8beaa"/><stop offset="0.0298" stop-color="#c8bca4"/><stop offset="0.0590" stop-color="#c8b99e"/><stop offset="0.0875" stop-color="#c8b697"/><stop offset="0.1154" stop-color="#c7b391"/><stop offset="0.1431" stop-color="#c7af88"/><stop offset="0.1708" stop-color="#c7ab81"/><stop offset="0.1989" stop-color="#c7a779"/><stop offset="0.2276" stop-color="#c7a372"/><stop offset="0.2569" stop-color="#c79e6d"/><stop offset="0.2869" stop-color="#c79968"/><stop offset="0.3176" stop-color="#c79564"/><stop offset="0.3488" stop-color="#c7905f"/><stop offset="0.4127" stop-color="#c67e4f"/><stop offset="0.4778" stop-color="#c66c40"/><stop offset="0.5434" stop-color="#c15d3a"/><stop offset="0.6094" stop-color="#bb4d33"/><stop offset="0.6754" stop-color="#b23a25"/><stop offset="0.7414" stop-color="#a92517"/><stop offset="0.8073" stop-color="#9b130b"/><stop offset="0.8731" stop-color="#8d0000"/><stop offset="0.9387" stop-color="#780000"/><stop offset="1.0000" stop-color="#650000"/></linearGradient>
<linearGradient id="s31" gradientUnits="userSpaceOnUse" x1="52.4" x2="800.0" y1="0" y2="0"><stop offset="0.0000" stop-color="#c8beaa"/><stop offset="0.0296" stop-color="#c8bca4"/><stop offset="0.0587" stop-color="#c8b99e"/><stop offset="0.0869" stop-color="#c8b697"/><stop offset="0.1147" stop-color="#c7b391"/><stop offset="0.1421" stop-color="#c7af88"/><stop offset="0.1697" stop-color="#c7ab81"/><stop offset="0.1977" stop-color="#c7a779"/><stop offset="0.2264" stop-color="#c7a372"/><stop offset="0.2557" stop-color="#c79e6d"/><stop offset="0.2857" stop-color="#c79968"/><stop offset="0.3165" stop-color="#c79564"/><stop offset="0.3478" stop-color="#c7905f"/><stop offset="0.4119" stop-color="#c67e4f"/><stop offset="0.4771" stop-color="#c66c40"/><stop offset="0.5429" stop-color="#c15d3a"/><stop offset="0.6090" stop-color="#bb4d33"/><stop offset="0.6751" stop-color="#b23a25"/><stop offset="0.7412" stop-color="#a92517"/><stop offset="0.8071" stop-color="#9b130b"/><stop offset="0.8729" stop-color="#8d0000"/><stop offset="0.9386" stop-color="#780000"/><stop offset="1.0000" stop-color="#650000"/></linearGradient>
<linearGradient id="s32" gradientUnits="userSpaceOnUse" x1="52.4" x2="800.0" y1="0" y2="0"><stop offset="0.0000" stop-color="#c8beaa"/><stop offset="0.0294" stop-color="#c8bca4"/><stop offset="0.0582" stop-color="#c8b99e"/><stop offset="0.0863" stop-color="#c8b697"/><stop offset="0.1138" stop-color="#c7b391"/><stop offset="0.1411" stop-color="#c7af88"/><stop offset="0.1686" stop-color="#c7ab81"/><stop offset="0.1965" stop-color="#c7a779"/><stop offset="0.2251" stop-color="#c7a372"/><stop offset="0.2544" stop-color="#c79e6d"/><stop offset="0.2846" stop-color="#c79968"/><stop offset="0.3154" stop-color="#c79564"/><stop offset="0.3468" stop-color="#c7905f"/><stop offset="0.4111" stop-color="#c67e4f"/><stop offset="0.4765" stop-color="#c66c40"/><stop offset="0.5424" stop-color="#c15d3a"/><stop offset="0.6086" stop-color="#bb4d33"/><stop offset="0.6748" stop-color="#b23a25"/><stop offset="0.7409" stop-color="#a92517"/><stop offset="0.8069" stop-color="#9b130b"/><stop offset="0.8728" stop-color="#8d0000"/><stop offset="0.9385" stop-color="#780000"/><stop offset="1.0000" stop-color="#640000"/></linearGradient>
<linearGradient id="s33" gradientUnits="userSpaceOnUse" x1="52.4" x2="800.0" y1="0" y2="0"><stop offset="0.0000" stop-color="#c8beaa"/><stop offset="0.0292" stop-color="#c8bca4"/><stop offset="0.0578" stop-color="#c8b99e"/><stop offset="0.0856" stop-color="#c8b697"/><stop offset="0.1129" stop-color="#c7b391"/><stop offset="0.1400" stop-color="#c7af88"/><stop offset="0.1674" stop-color="#c7ab81"/><stop offset="0.1952" stop-color="#c7a779"/><stop offset="0.2238" stop-color="#c7a372"/><stop offset="0.2532" stop-color="#c79e6d"/><stop offset="0.2833" stop-color="#c79968"/><stop offset="0.3142" stop-color="#c79564"/><stop offset="0.3458" stop-color="#c7905f"/><stop offset="0.4102" stop-color="#c67e4f"/><stop offset="0.4758" stop-color="#c66c40"/><stop offset="0.5419" stop-color="#c15d3a"/><stop offset="0.6082" stop-color="#bc4e34"/><stop offset="0.6745" stop-color="#b23a25"/><stop offset="0.7407" stop-color="#a92517"/><stop offset="0.8067" stop-color="#9b130b"/><stop offset="0.8726" stop-color="#8d0000"/><stop offset="0.9383" stop-color="#780000"/><stop offset="1.0000" stop-color="#640000"/></linearGradient>
<linearGradient id="s34" gradientUnits="userSpaceOnUse" x1="52.4" x2="800.0" y1="0" y2="0"><stop offset="0.0000" stop-color="#c8beaa"/><stop offset="0.0289" stop-color="#c8bca4"/><stop offset="0.0573" stop-color="#c8b99e"/><stop offset="0.0849" stop-color="#c8b697"/><stop offset="0.1120" stop-color="#c7b391"/><stop offset="0.1389" stop-color="#c7af88"/><stop offset="0.1661" stop-color="#c7ab81"/><stop offset="0.1939" stop-color="#c7a779"/><stop offset="0.2224" stop-color="#c7a372"/><stop offset="0.2518" stop-color="#c79e6d"/><stop offset="0.2821" stop-color="#c79968"/><stop offset="0.3131" stop-color="#c79564"/><stop offset="0.3447" stop-color="#c7905f"/><stop offset="0.4094" stop-color="#c67e4f"/><stop offset="0.4752" stop-color="#c66c40"/><stop offset="0.5414" stop-color="#c15d3a"/><stop offset="0.6078" stop-color="#bc4e34"/><stop offset="0.6742" stop-color="#b23a25"/><stop offset="0.7404" stop-color="#a92517"/><stop offset="0.8065" stop-color="#9b130b"/><stop offset="0.8724" stop-color="#8d0000"/><stop offset="0.9382" stop-color="#780000"/><stop offset="1.0000" stop-color="#640000"/></linearGradient>
<linearGradient id="s35" gradientUnits="userSpaceOnUse" x1="52.4" x2="800.0" y1="0" y2="0"><stop offset="0.0000" stop-color="#c8beaa"/><stop offset="0.0286" stop-color="#c8bca4"/><stop offset="0.0567" stop-color="#c8b99e"/><stop offset="0.0841" stop-color="#c8b697"/><stop offset="0.1109" stop-color="#c7b391"/><stop offset="0.1377" stop-color="#c7af88"/><stop offset="0.1648" stop-color="#c7ab81"/><stop offset="0.1925" stop-color="#c7a779"/><stop offset="0.2210" stop-color="#c7a372"/><stop offset="0.2504" stop-color="#c79e6d"/><stop offset="0.2807" stop-color="#c79968"/><stop offset="0.3118" stop-color="#c79564"/><stop offset="0.3436" stop-color="#c7905f"/><stop offset="0.4085" stop-color="#c67e4f"/><stop offset="0.4745" stop-color="#c66c40"/><stop offset="0.5409" stop-color="#c15d3a"/><stop offset="0.6075" stop-color="#bc4e34"/><stop offset="0.6739" stop-color="#b23a25"/><stop offset="0.7402" stop-color="#a92517"/><stop offset="0.8063" stop-color="#9b130b"/><stop offset="0.8723" stop-color="#8d0000"/><stop offset="0.9381" stop-color="#780000"/><stop offset="1.0000" stop-color="#640000"/></linearGradient>
<linearGradient id="s36" gradientUnits="userSpaceOnUse" x1="52.4" x2="800.0" y1="0" y2="0"><stop offset="0.0000" stop-color="#c8beaa"/><stop offset="0.0283" stop-color="#c8bca4"/><stop offset="0.0561" stop-color="#c8b99e"/><stop offset="0.0832" stop-color="#c8b697"/><stop offset="0.1098" stop-color="#c7b391"/><stop offset="0.1364" stop-color="#c7af88"/><stop offset="0.1633" stop-color="#c7ab81"/><stop offset="0.1910" stop-color="#c7a779"/><stop offset="0.2195" stop-color="#c7a372"/><stop offset="0.2490" stop-color="#c79e6d"/><stop offset="0.2794" stop-color="#c79968"/><stop offset="0.3106" stop-color="#c79564"/><stop offset="0.3425" stop-color="#c7905f"/><stop offset="0.4077" stop-color="#c67e4f"/><stop offset="0.4739" stop-color="#c66c40"/><stop offset="0.5404" stop-color="#c15d3a"/><stop offset="0.6071" stop-color="#bc4e34"/><stop offset="0.6736" stop-color="#b23a25"/><stop offset="0.7400" stop-color="#a92517"/><stop offset="0.8061" stop-color="#9b130b"/><stop offset="0.8721" stop-color="#8d0000"/><stop offset="0.9380" stop-color="#780000"/><stop offset="1.0000" stop-color="#640000"/></linearGradient>
<linearGradient id="s37" gradientUnits="userSpaceOnUse" x1="52.4" x2="800.0" y1="0" y2="0"><stop offset="0.0000" stop-color="#c8beaa"/><stop offset="0.0280" stop-color="#c8bca4"/><stop offset="0.0554" stop-color="#c8b99e"/><stop offset="0.0822" stop-color="#c8b697"/><stop offset="0.1086" stop-color="#c7b390"/><stop offset="0.1350" stop-color="#c7af88"/><stop offset="0.1618" stop-color="#c7ab81"/><stop offset="0.1894" stop-color="#c7a779"/><stop offset="0.2179" stop-color="#c7a372"/><stop offset="0.2475" stop-color="#c79e6d"/><stop offset="0.2780" stop-color="#c79968"/><stop offset="0.3093" stop-color="#c79564"/><stop offset="0.3413" stop-color="#c7905f"/><stop offset="0.4068" stop-color="#c67e4f"/><stop offset="0.4732" stop-color="#c66c40"/><stop offset="0.5399" stop-color="#c15e3a"/><stop offset="0.6067" stop-color="#bc4e34"/><stop offset="0.6733" stop-color="#b23a25"/><stop offset="0.7397" stop-color="#a92517"/><stop offset="0.8060" stop-color="#9b130b"/><stop offset="0.8720" stop-color="#8d0000"/><stop offset="0.9378" stop-color="#780000"/><stop offset="1.0000" stop-color="#640000"/></linearGradient>
<linearGradient id="s38" gradientUnits="userSpaceOnUse" x1="52.4" x2="800.0" y1="0" y2="0"><stop offset="0.0000" stop-color="#c8beaa"/><stop offset="0.0276" stop-color="#c8bca4"/><stop offset="0.0547" stop-color="#c8b99e"/><stop offset="0.0812" stop-color="#c8b697"/><stop offset="0.1073" stop-color="#c7b390"/><stop offset="0.1335" stop-color="#c7af88"/><stop offset="0.1602" stop-color="#c7ab81"/><stop offset="0.1877" stop-color="#c7a779"/><stop offset="0.2163" stop-color="#c7a372"/><stop offset="0.2459" stop-color="#c79e6d"/><stop offset="0.2765" stop-color="#c79968"/><stop offset="0.3080" stop-color="#c79564"/><stop offset="0.3402" stop-color="#c7905f"/><stop offset="0.4059" stop-color="#c67e4f"/><stop offset="0.4725" stop-color="#c66c40"/><stop offset="0.5395" stop-color="#c15e3a"/><stop offset="0.6063" stop-color="#bc4e34"/><stop offset="0.6730" stop-color="#b23a25"/><stop offset="0.7395" stop-color="#a92517"/><stop offset="0.8058" stop-color="#9b130b"/><stop offset="0.8718" stop-color="#8d0000"/><stop offset="0.9377" stop-color="#780000"/><stop offset="1.0000" stop-color="#640000"/></linearGradient>
<linearGradient id="s39" gradientUnits="userSpaceOnUse" x1="52.4" x2="800.0" y1="0" y2="0"><stop offset="0.0000" stop-color="#c8beaa"/><stop offset="0.0272" stop-color="#c8bca4"/><stop offset="0.0539" stop-color="#c8b99e"/><stop offset="0.0801" stop-color="#c8b697"/><stop offset="0.1060" stop-color="#c7b390"/><stop offset="0.1320" stop-color="#c7af88"/><stop offset="0.1585" stop-color="#c7ab81"/><stop offset="0.1860" stop-color="#c7a779"/><stop offset="0.2146" stop-color="#c7a372"/><stop offset="0.2442" stop-color="#c79e6d"/><stop offset="0.2750" stop-color="#c79968"/><stop offset="0.3066" stop-color="#c79564"/><stop offset="0.3390" stop-color="#c7905f"/><stop offset="0.4050" stop-color="#c67e4f"/><stop offset="0.4719" stop-color="#c66c40"/><stop offset="0.5390" stop-color="#c15e3a"/><stop offset="0.6060" stop-color="#bc4e34"/><stop offset="0.6727" stop-color="#b23a25"/><stop offset="0.7393" stop-color="#a92517"/><stop offset="0.8056" stop-color="#9b130b"/><stop offset="0.8717" stop-color="#8d0000"/><stop offset="0.9376" stop-color="#780000"/><stop offset="1.0000" stop-color="#640000"/></linearGradient>
<linearGradient id="s40" gradientUnits="userSpaceOnUse" x1="52.4" x2="800.0" y1="0" y2="0"><stop offset="0.0000" stop-color="#c8beaa"/><stop offset="0.0267" stop-color="#c8bca4"/><stop offset="0.0530" stop-color="#c8b99e"/><stop offset="0.0789" stop-color="#c8b697"/><stop offset="0.1045" stop-color="#c7b390"/><stop offset="0.1303" stop-color="#c7af88"/><stop offset="0.1567" stop-color="#c7ab81"/><stop offset="0.1842" stop-color="#c7a779"/><stop offset="0.2128" stop-color="#c7a372"/><stop offset="0.2425" stop-color="#c79e6d"/><stop offset="0.2734" stop-color="#c79968"/><stop offset="0.3053" stop-color="#c79564"/><stop offset="0.3378" stop-color="#c7905f"/><stop offset="0.3708" stop-color="#c68757"/><stop offset="0.4376" stop-color="#c67547"/><stop offset="0.5049" stop-color="#c3653d"/><stop offset="0.5721" stop-color="#be5637"/><stop offset="0.6391" stop-color="#b7442d"/><stop offset="0.7058" stop-color="#ae301e"/><stop offset="0.7723" stop-color="#a21c11"/><stop offset="0.8385" stop-color="#940906"/><stop offset="0.9045" stop-color="#820000"/><stop offset="0.9704" stop-color="#6e0000"/><stop offset="1.0000" stop-color="#640000"/></linearGradient>
<linearGradient id="s41" gradientUnits="userSpaceOnUse" x1="52.4" x2="800.0" y1="0" y2="0"><stop offset="0.0000" stop-color="#c8beaa"/><stop offset="0.0262" stop-color="#c8bca4"/><stop offset="0.0521" stop-color="#c8b99e"/><stop offset="0.0776" stop-color="#c8b697"/><stop offset="0.1029" stop-color="#c7b390"/><stop offset="0.1285" stop-color="#c7af88"/><stop offset="0.1548" stop-color="#c7ab81"/><stop offset="0.1822" stop-color="#c7a779"/><stop offset="0.2109" stop-color="#c7a372"/><stop offset="0.2408" stop-color="#c79e6d"/><stop offset="0.2718" stop-color="#c79968"/><stop offset="0.3038" stop-color="#c79564"/><stop offset="0.3365" stop-color="#c7905f"/><stop offset="0.3697" stop-color="#c68757"/><stop offset="0.4368" stop-color="#c67547"/><stop offset="0.5043" stop-color="#c3653d"/><stop offset="0.5716" stop-color="#be5637"/><stop offset="0.6387" stop-color="#b7442d"/><stop offset="0.7056" stop-color="#ae301e"/><stop offset="0.7721" stop-color="#a21c11"/><stop offset="0.8384" stop-color="#940906"/><stop offset="0.9044" stop-color="#820000"/><stop offset="0.9703" stop-color="#6e0000"/><stop offset="1.0000" stop-color="#640000"/></linearGradient>
<linearGradient id="s42" gradientUnits="userSpaceOnUse" x1="52.4" x2="800.0" y1="0" y2="0"><stop offset="0.0000" stop-color="#c8beaa"/><stop offset="0.0256" stop-color="#c8bca4"/><stop offset="0.0510" stop-color="#c8b99e"/><stop offset="0.0761" stop-color="#c8b697"/><stop offset="0.1012" stop-color="#c7b390"/><stop offset="0.1266" stop-color="#c7af88"/><stop offset="0.1528" stop-color="#c7ab81"/><stop offset="0.1802" stop-color="#c7a779"/><stop offset="0.2089" stop-color="#c7a372"/><stop offset="0.2389" stop-color="#c79e6d"/><stop offset="0.2702" stop-color="#c79968"/><stop offset="0.3024" stop-color="#c79564"/><stop offset="0.3353" stop-color="#c7905f"/><stop offset="0.3686" stop-color="#c68757"/><stop offset="0.4361" stop-color="#c67547"/><stop offset="0.5037" stop-color="#c3653d"/><stop offset="0.5712" stop-color="#be5637"/><stop offset="0.6384" stop-color="#b7442d"/><stop offset="0.7053" stop-color="#ae301e"/><stop offset="0.7719" stop-color="#a21c11"/><stop offset="0.8382" stop-color="#940906"/><stop offset="0.9043" stop-color="#820000"/><stop offset="0.9702" stop-color="#6e0000"/><stop offset="1.0000" stop-color="#640000"/></linearGradient>
<linearGradient id="s43" gradientUnits="userSpaceOnUse" x1="52.4" x2="800.0" y1="0" y2="0"><stop offset="0.0000" stop-color="#c8beaa"/><stop offset="0.0250" stop-color="#c8bca4"/><stop offset="0.0498" stop-color="#c8b99e"/><stop offset="0.0746" stop-color="#c8b596"/><stop offset="0.0993" stop-color="#c7b390"/><stop offset="0.1246" stop-color="#c7af88"/><stop offset="0.1507" stop-color="#c7ab81"/><stop offset="0.1780" stop-color="#c7a779"/><stop offset="0.2068" stop-color="#c7a372"/><stop offset="0.2370" stop-color="#c79e6d"/><stop offset="0.2684" stop-color="#c79968"/><stop offset="0.3009" stop-color="#c79564"/><stop offset="0.3340" stop-color="#c7905f"/><stop offset="0.3675" stop-color="#c68757"/><stop offset="0.4353" stop-color="#c67547"/><stop offset="0.5032" stop-color="#c3653d"/><stop offset="0.5708" stop-color="#be5637"/><stop offset="0.6381" stop-color="#b7442d"/><stop offset="0.7051" stop-color="#ae301e"/><stop offset="0.7717" stop-color="#a21c11"/><stop offset="0.8381" stop-color="#940906"/><stop offset="0.9042" stop-color="#820000"/><stop offset="0.9701" stop-color="#6e0000"/><stop offset="1.0000" stop-color="#640000"/></linearGradient>
<linearGradient id="s44" gradientUnits="userSpaceOnUse" x1="52.4" x2="800.0" y1="0" y2="0"><stop offset="0.0000" stop-color="#c8beaa"/><stop offset="0.0243" stop-color="#c8bba3"/><stop offset="0.0486" stop-color="#c8b89d"/><stop offset="0.0729" stop-color="#c8b596"/><stop offset="0.0974" stop-color="#c7b390"/><stop offset="0.1224" stop-color="#c7af88"/><stop offset="0.1484" stop-color="#c7ab81"/><stop offset="0.1757" stop-color="#c7a779"/><stop offset="0.2046" stop-color="#c7a372"/><stop offset="0.2350" stop-color="#c79e6d"/><stop offset="0.2666" stop-color="#c79968"/><stop offset="0.2993" stop-color="#c79564"/><stop offset="0.3327" stop-color="#c7905f"/><stop offset="0.3664" stop-color="#c68757"/><stop offset="0.4345" stop-color="#c67648"/><stop offset="0.5026" stop-color="#c3653d"/><stop offset="0.5704" stop-color="#be5637"/><stop offset="0.6378" stop-color="#b7442d"/><stop offset="0.7048" stop-color="#ae301e"/><stop offset="0.7715" stop-color="#a21c11"/><stop offset="0.8379" stop-color="#940906"/><stop offset="0.9041" stop-color="#820000"/><stop offset="0.9700" stop-color="#6e0000"/><stop offset="1.0000" stop-color="#640000"/></linearGradient>
<linearGradient id="s45" gradientUnits="userSpaceOnUse" x1="52.4" x2="800.0" y1="0" y2="0"><stop offset="0.0000" stop-color="#c8beaa"/><stop offset="0.0235" stop-color="#c8bba3"/><stop offset="0.0471" stop-color="#c8b89d"/><stop offset="0.0710" stop-color="#c8b596"/><stop offset="0.0952" stop-color="#c7b390"/><stop offset="0.1200" stop-color="#c7af88"/><stop offset="0.1460" stop-color="#c7ab81"/><stop offset="0.1733" stop-color="#c7a779"/><stop offset="0.2023" stop-color="#c7a372"/><stop offset="0.2329" stop-color="#c79e6d"/><stop offset="0.2648" stop-color="#c79968"/><stop offset="0.2977" stop-color="#c79564"/><stop offset="0.3313" stop-color="#c7905f"/><stop offset="0.3653" stop-color="#c68757"/><stop offset="0.4337" stop-color="#c67648"/><stop offset="0.5021" stop-color="#c3653d"/><stop offset="0.5700" stop-color="#be5637"/><stop offset="0.6375" stop-color="#b7442d"/><stop offset="0.7046" stop-color="#ae301e"/><stop offset="0.7714" stop-color="#a21c11"/><stop offset="0.8378" stop-color="#940906"/><stop offset="0.9040" stop-color="#820000"/><stop offset="0.9699" stop-color="#6e0000"/><stop offset="1.0000" stop-color="#640000"/></linearGradient>
<linearGradient id="s46" gradientUnits="userSpaceOnUse" x1="52.4" x2="800.0" y1="0" y2="0"><stop offset="0.0000" stop-color="#c8beaa"/><stop offset="0.0226" stop-color="#c8bba3"/><stop offset="0.0456" stop-color="#c8b89d"/><stop offset="0.0690" stop-color="#c8b596"/><stop offset="0.0929" stop-color="#c7b390"/><stop offset="0.1175" stop-color="#c7af88"/><stop offset="0.1434" stop-color="#c7ab81"/><stop offset="0.1707" stop-color="#c7a779"/><stop offset="0.1999" stop-color="#c7a372"/><stop offset="0.2307" stop-color="#c79e6d"/><stop offset="0.2629" stop-color="#c79968"/><stop offset="0.2961" stop-color="#c79564"/><stop offset="0.3300" stop-color="#c7905f"/><stop offset="0.3642" stop-color="#c68757"/><stop offset="0.4330" stop-color="#c67648"/><stop offset="0.5015" stop-color="#c3653d"/><stop offset="0.5696" stop-color="#be5637"/><stop offset="0.6372" stop-color="#b7442d"/><stop offset="0.7044" stop-color="#ae301e"/><stop offset="0.7712" stop-color="#a21c11"/><stop offset="0.8377" stop-color="#940906"/><stop offset="0.9038" stop-color="#820000"/><stop offset="0.9698" stop-color="#6e0000"/><stop offset="1.0000" stop-color="#640000"/></linearGradient>
<linearGradient id="s47" gradientUnits="userSpaceOnUse" x1="52.4" x2="800.0" y1="0" y2="0"><stop offset="0.0000" stop-color="#c8beaa"/><stop offset="0.0217" stop-color="#c8bba3"/><stop offset="0.0439" stop-color="#c8b89d"/><stop offset="0.0667" stop-color="#c8b596"/><stop offset="0.0903" stop-color="#c7b390"/><stop offset="0.1148" stop-color="#c7af88"/><stop offset="0.1406" stop-color="#c7ab81"/><stop offset="0.1680" stop-color="#c7a779"/><stop offset="0.1973" stop-color="#c7a372"/><stop offset="0.2284" stop-color="#c79e6d"/><stop offset="0.2609" stop-color="#c79968"/><stop offset="0.2945" stop-color="#c79564"/><stop offset="0.3286" stop-color="#c7905f"/><stop offset="0.3631" stop-color="#c68757"/><stop offset="0.4322" stop-color="#c67648"/><stop offset="0.5010" stop-color="#c3653d"/><stop offset="0.5692" stop-color="#be5637"/><stop offset="0.6370" stop-color="#b7442d"/><stop offset="0.7042" stop-color="#ae301e"/><stop offset="0.7710" stop-color="#a21c11"/><stop offset="0.8375" stop-color="#940906"/><stop offset="0.9037" stop-color="#820000"/><stop offset="0.9697" stop-color="#6e0000"/><stop offset="1.0000" stop-color="#640000"/></linearGradient>
<linearGradient id="s48" gradientUnits="userSpaceOnUse" x1="52.4" x2="800.0" y1="0" y2="0"><stop offset="0.0000" stop-color="#c8beaa"/><stop offset="0.0206" stop-color="#c8bba3"/><stop offset="0.0420" stop-color="#c8b89d"/><stop offset="0.0643" stop-color="#c8b596"/><stop offset="0.0875" stop-color="#c7b390"/><stop offset="0.1119" stop-color="#c7af88"/><stop offset="0.1376" stop-color="#c7ab81"/><stop offset="0.1651" stop-color="#c7a779"/><stop offset="0.1946" stop-color="#c7a372"/><stop offset="0.2260" stop-color="#c79e6d"/><stop offset="0.2589" stop-color="#c79968"/><stop offset="0.2928" stop-color="#c79564"/><stop offset="0.3272" stop-color="#c7905f"/><stop offset="0.3619" stop-color="#c68757"/><stop offset="0.4314" stop-color="#c67648"/><stop offset="0.5005" stop-color="#c3653d"/><stop offset="0.5689" stop-color="#be5637"/><stop offset="0.6367" stop-color="#b7442d"/><stop offset="0.7040" stop-color="#ae301e"/><stop offset="0.7709" stop-color="#a21c11"/><stop offset="0.8374" stop-color="#940906"/><stop offset="0.9036" stop-color="#820000"/><stop offset="0.9696" stop-color="#6e0000"/><stop offset="1.0000" stop-color="#640000"/></linearGradient>
<linearGradient id="s49" gradientUnits="userSpaceOnUse" x1="52.4" x2="800.0" y1="0" y2="0"><stop offset="0.0000" stop-color="#c8beaa"/><stop offset="0.0195" stop-color="#c8bba3"/><stop offset="0.0399" stop-color="#c8b89d"/><stop offset="0.0615" stop-color="#c8b596"/><stop offset="0.0845" stop-color="#c7b390"/><stop offset="0.1087" stop-color="#c7af88"/><stop offset="0.1344" stop-color="#c7ab81"/><stop offset="0.1620" stop-color="#c7a779"/><stop offset="0.1918" stop-color="#c7a372"/><stop offset="0.2235" stop-color="#c79e6d"/><stop offset="0.2568" stop-color="#c79968"/><stop offset="0.2910" stop-color="#c79564"/><stop offset="0.3258" stop-color="#c7905f"/><stop offset="0.3608" stop-color="#c68858"/><stop offset="0.4307" stop-color="#c67648"/><stop offset="0.4999" stop-color="#c3653d"/><stop offset="0.5685" stop-color="#be5637"/><stop offset="0.6364" stop-color="#b7442d"/><stop offset="0.7038" stop-color="#ae301e"/><stop offset="0.7707" stop-color="#a21c11"/><stop offset="0.8373" stop-color="#940906"/><stop offset="0.9035" stop-color="#820000"/><stop offset="0.9696" stop-color="#6e0000"/><stop offset="1.0000" stop-color="#640000"/></linearGradient>
<linearGradient id="s50" gradientUnits="userSpaceOnUse" x1="52.4" x2="800.0" y1="0" y2="0"><stop offset="0.0000" stop-color="#c8beaa"/><stop offset="0.0183" stop-color="#c8bba3"/><stop offset="0.0376" stop-color="#c8b89d"/><stop offset="0.0585" stop-color="#c8b596"/><stop offset="0.0811" stop-color="#c7b390"/><stop offset="0.1052" stop-color="#c7af88"/><stop offset="0.1309" stop-color="#c7ab81"/><stop offset="0.1587" stop-color="#c7a779"/><stop offset="0.1887" stop-color="#c7a372"/><stop offset="0.2209" stop-color="#c79e6d"/><stop offset="0.2546" stop-color="#c79968"/><stop offset="0.2892" stop-color="#c79564"/><stop offset="0.3244" stop-color="#c7905f"/><stop offset="0.3597" stop-color="#c68858"/><stop offset="0.4299" stop-color="#c67648"/><stop offset="0.4994" stop-color="#c3653d"/><stop offset="0.5681" stop-color="#be5637"/><stop offset="0.6361" stop-color="#b7442d"/><stop offset="0.7036" stop-color="#ae301e"/><stop offset="0.7706" stop-color="#a21c11"/><stop offset="0.8372" stop-color="#940906"/><stop offset="0.9034" stop-color="#820000"/><stop offset="0.9695" stop-color="#6e0000"/><stop offset="1.0000" stop-color="#640000"/></linearGradient>
<linearGradient id="s51" gradientUnits="userSpaceOnUse" x1="52.4" x2="800.0" y1="0" y2="0"><stop offset="0.0000" stop-color="#c8beaa"/><stop offset="0.0170" stop-color="#c8bba3"/><stop offset="0.0351" stop-color="#c8b89d"/><stop offset="0.0552" stop-color="#c8b596"/><stop offset="0.0774" stop-color="#c7b390"/><stop offset="0.1014" stop-color="#c7af88"/><stop offset="0.1272" stop-color="#c7ab81"/><stop offset="0.1551" stop-color="#c7a779"/><stop offset="0.1855" stop-color="#c7a372"/><stop offset="0.2181" stop-color="#c79e6d"/><stop offset="0.2523" stop-color="#c79968"/><stop offset="0.2874" stop-color="#c79564"/><stop offset="0.3230" stop-color="#c7905f"/><stop offset="0.3585" stop-color="#c68858"/><stop offset="0.4292" stop-color="#c67648"/><stop offset="0.4989" stop-color="#c3653d"/><stop offset="0.5678" stop-color="#be5637"/><stop offset="0.6359" stop-color="#b7442d"/><stop offset="0.7034" stop-color="#ae301e"/><stop offset="0.7704" stop-color="#a21c11"/><stop offset="0.8370" stop-color="#940906"/><stop offset="0.9034" stop-color="#820000"/><stop offset="0.9694" stop-color="#6e0000"/><stop offset="1.0000" stop-color="#640000"/></linearGradient>
<linearGradient id="s52" gradientUnits="userSpaceOnUse" x1="52.4" x2="800.0" y1="0" y2="0"><stop offset="0.0000" stop-color="#c8beaa"/><stop offset="0.0156" stop-color="#c8bba3"/><stop offset="0.0323" stop-color="#c8b89d"/><stop offset="0.0515" stop-color="#c8b596"/><stop offset="0.0733" stop-color="#c7b390"/><stop offset="0.0972" stop-color="#c7af88"/><stop offset="0.1231" stop-color="#c7ab81"/><stop offset="0.1513" stop-color="#c7a779"/><stop offset="0.1821" stop-color="#c7a372"/><stop offset="0.2152" stop-color="#c79e6d"/><stop offset="0.2500" stop-color="#c79968"/><stop offset="0.2856" stop-color="#c79564"/><stop offset="0.3215" stop-color="#c7905f"/><stop offset="0.3574" stop-color="#c68858"/><stop offset="0.4285" stop-color="#c67648"/><stop offset="0.4985" stop-color="#c3653d"/><stop offset="0.5675" stop-color="#be5637"/><stop offset="0.6356" stop-color="#b7442d"/><stop offset="0.7032" stop-color="#ae301e"/><stop offset="0.7703" stop-color="#a21c11"/><stop offset="0.8369" stop-color="#940906"/><stop offset="0.9033" stop-color="#820000"/><stop offset="0.9693" stop-color="#6e0000"/><stop offset="1.0000" stop-color="#640000"/></linearGradient>
<linearGradient id="s53" gradientUnits="userSpaceOnUse" x1="52.4" x2="800.0" y1="0" y2="0"><stop offset="0.0000" stop-color="#c8beaa"/><stop offset="0.0141" stop-color="#c8bba3"/><stop offset="0.0294" stop-color="#c8b89d"/><stop offset="0.0474" stop-color="#c8b596"/><stop offset="0.0686" stop-color="#c7b390"/><stop offset="0.0925" stop-color="#c7af88"/><stop offset="0.1187" stop-color="#c7ab81"/><stop offset="0.1472" stop-color="#c7a779"/><stop offset="0.1785" stop-color="#c7a372"/><stop offset="0.2122" stop-color="#c79e6d"/><stop offset="0.2475" stop-color="#c79968"/><stop offset="0.2837" stop-color="#c79564"/><stop offset="0.3201" stop-color="#c7905f"/><stop offset="0.3563" stop-color="#c68858"/><stop offset="0.4278" stop-color="#c67648"/><stop offset="0.4980" stop-color="#c3653d"/><stop offset="0.5671" stop-color="#be5637"/><stop offset="0.6354" stop-color="#b7442d"/><stop offset="0.7030" stop-color="#ae301e"/><stop offset="0.7701" stop-color="#a21c11"/><stop offset="0.8368" stop-color="#940906"/><stop offset="0.9032" stop-color="#820000"/><stop offset="0.9693" stop-color="#6e0000"/><stop offset="1.0000" stop-color="#640000"/></linearGradient>
<linearGradient id="s54" gradientUnits="userSpaceOnUse" x1="52.4" x2="800.0" y1="0" y2="0"><stop offset="0.0000" stop-color="#c8beaa"/><stop offset="0.0126" stop-color="#c8bba3"/><stop offset="0.0263" stop-color="#c8b89d"/><stop offset="0.0428" stop-color="#c8b596"/><stop offset="0.0633" stop-color="#c7b390"/><stop offset="0.0873" stop-color="#c7af88"/><stop offset="0.1137" stop-color="#c7ab81"/><stop offset="0.1427" stop-color="#c7a779"/><stop offset="0.1746" stop-color="#c7a372"/><stop offset="0.2090" stop-color="#c79e6d"/><stop offset="0.2451" stop-color="#c79968"/><stop offset="0.2818" stop-color="#c79564"/><stop offset="0.3186" stop-color="#c7905f"/><stop offset="0.3551" stop-color="#c68858"/><stop offset="0.4271" stop-color="#c67648"/><stop offset="0.4975" stop-color="#c3653d"/><stop offset="0.5668" stop-color="#be5637"/><stop offset="0.6352" stop-color="#b7442d"/><stop offset="0.7029" stop-color="#ae301e"/><stop offset="0.7700" stop-color="#a21c11"/><stop offset="0.8367" stop-color="#940906"/><stop offset="0.9031" stop-color="#820000"/><stop offset="0.9692" stop-color="#6e0000"/><stop offset="1.0000" stop-color="#640000"/></linearGradient>
<linearGradient id="s55" gradientUnits="userSpaceOnUse" x1="52.4" x2="800.0" y1="0" y2="0"><stop offset="0.0000" stop-color="#c8beaa"/><stop offset="0.0110" stop-color="#c8bba3"/><stop offset="0.0231" stop-color="#c8b89d"/><stop offset="0.0378" stop-color="#c8b596"/><stop offset="0.0571" stop-color="#c7b390"/><stop offset="0.0812" stop-color="#c7af88"/><stop offset="0.1082" stop-color="#c7ab81"/><stop offset="0.1378" stop-color="#c7a779"/><stop offset="0.1704" stop-color="#c7a372"/><stop offset="0.2056" stop-color="#c79e6d"/><stop offset="0.2425" stop-color="#c79968"/><stop offset="0.2799" stop-color="#c79564"/><stop offset="0.3171" stop-color="#c7905f"/><stop offset="0.3540" stop-color="#c68858"/><stop offset="0.4264" stop-color="#c67648"/><stop offset="0.4971" stop-color="#c3653d"/><stop offset="0.5665" stop-color="#be5637"/><stop offset="0.6350" stop-color="#b7442d"/><stop offset="0.7027" stop-color="#ae301e"/><stop offset="0.7699" stop-color="#a21c11"/><stop offset="0.8366" stop-color="#940906"/><stop offset="0.9030" stop-color="#820000"/><stop offset="0.9691" stop-color="#6e0000"/><stop offset="1.0000" stop-color="#640000"/></linearGradient>
<linearGradient id="s56" gradientUnits="userSpaceOnUse" x1="52.4" x2="800.0" y1="0" y2="0"><stop offset="0.0000" stop-color="#c8beaa"/><stop offset="0.0103" stop-color="#c8bba3"/><stop offset="0.0209" stop-color="#c8b89d"/><stop offset="0.0326" stop-color="#c8b596"/><stop offset="0.0500" stop-color="#c7b390"/><stop offset="0.0740" stop-color="#c7af88"/><stop offset="0.1020" stop-color="#c7ab81"/><stop offset="0.1324" stop-color="#c7a779"/><stop offset="0.1658" stop-color="#c7a372"/><stop offset="0.2020" stop-color="#c79e6d"/><stop offset="0.2398" stop-color="#c79968"/><stop offset="0.2779" stop-color="#c79564"/><stop offset="0.3157" stop-color="#c7905f"/><stop offset="0.3529" stop-color="#c68858"/><stop offset="0.4257" stop-color="#c67648"/><stop offset="0.4967" stop-color="#c3653d"/><stop offset="0.5662" stop-color="#be5637"/><stop offset="0.6347" stop-color="#b7442d"/><stop offset="0.7025" stop-color="#ae301e"/><stop offset="0.7698" stop-color="#a21c11"/><stop offset="0.8365" stop-color="#940906"/><stop offset="0.9029" stop-color="#820000"/><stop offset="0.9691" stop-color="#6e0000"/><stop offset="1.0000" stop-color="#640000"/></linearGradient>
<linearGradient id="s57" gradientUnits="userSpaceOnUse" x1="52.4" x2="800.0" y1="0" y2="0"><stop offset="0.0000" stop-color="#c8beaa"/><stop offset="0.0097" stop-color="#c8bba3"/><stop offset="0.0197" stop-color="#c8b89d"/><stop offset="0.0305" stop-color="#c8b596"/><stop offset="0.0426" stop-color="#c7b390"/><stop offset="0.0651" stop-color="#c7af88"/><stop offset="0.0947" stop-color="#c7ab81"/><stop offset="0.1263" stop-color="#c7a779"/><stop offset="0.1609" stop-color="#c7a372"/><stop offset="0.1983" stop-color="#c79e6d"/><stop offset="0.2371" stop-color="#c79968"/><stop offset="0.2759" stop-color="#c79564"/><stop offset="0.3142" stop-color="#c7905f"/><stop offset="0.3519" stop-color="#c68858"/><stop offset="0.4251" stop-color="#c67648"/><stop offset="0.4962" stop-color="#c3653d"/><stop offset="0.5659" stop-color="#be5637"/><stop offset="0.6345" stop-color="#b7442d"/><stop offset="0.7024" stop-color="#ae301e"/><stop offset="0.7696" stop-color="#a21c11"/><stop offset="0.8364" stop-color="#940906"/><stop offset="0.9029" stop-color="#820000"/><stop offset="0.9690" stop-color="#6e0000"/><stop offset="1.0000" stop-color="#640000"/></linearGradient>
<linearGradient id="s58" gradientUnits="userSpaceOnUse" x1="52.4" x2="800.0" y1="0" y2="0"><stop offset="0.0000" stop-color="#c8beaa"/><stop offset="0.0091" stop-color="#c8bba3"/><stop offset="0.0185" stop-color="#c8b89d"/><stop offset="0.0287" stop-color="#c8b596"/><stop offset="0.0400" stop-color="#c7b390"/><stop offset="0.0536" stop-color="#c7af88"/><stop offset="0.0857" stop-color="#c7ab82"/><stop offset="0.1195" stop-color="#c7a779"/><stop offset="0.1554" stop-color="#c7a372"/><stop offset="0.1942" stop-color="#c79e6d"/><stop offset="0.2342" stop-color="#c79a69"/><stop offset="0.2739" stop-color="#c79564"/><stop offset="0.3128" stop-color="#c7905f"/><stop offset="0.3508" stop-color="#c68858"/><stop offset="0.4245" stop-color="#c67648"/><stop offset="0.4959" stop-color="#c3653d"/><stop offset="0.5657" stop-color="#be5637"/><stop offset="0.6344" stop-color="#b7442d"/><stop offset="0.7022" stop-color="#ae301e"/><stop offset="0.7695" stop-color="#a21c11"/><stop offset="0.8364" stop-color="#940906"/><stop offset="0.9028" stop-color="#820000"/><stop offset="0.9690" stop-color="#6e0000"/><stop offset="1.0000" stop-color="#640000"/></linearGradient>
<linearGradient id="s59" gradientUnits="userSpaceOnUse" x1="52.4" x2="800.0" y1="0" y2="0"><stop offset="0.0000" stop-color="#c8beaa"/><stop offset="0.0085" stop-color="#c8bba3"/><stop offset="0.0174" stop-color="#c8b89d"/><stop offset="0.0269" stop-color="#c8b596"/><stop offset="0.0375" stop-color="#c7b390"/><stop offset="0.0502" stop-color="#c7af88"/><stop offset="0.0731" stop-color="#c7ab82"/><stop offset="0.1114" stop-color="#c7a779"/><stop offset="0.1494" stop-color="#c7a372"/><stop offset="0.1899" stop-color="#c79e6d"/><stop offset="0.2313" stop-color="#c79a69"/><stop offset="0.2719" stop-color="#c79564"/><stop offset="0.3114" stop-color="#c7905f"/><stop offset="0.3498" stop-color="#c68858"/><stop offset="0.4239" stop-color="#c67648"/><stop offset="0.4955" stop-color="#c3653d"/><stop offset="0.5654" stop-color="#be5637"/><stop offset="0.6342" stop-color="#b7442d"/><stop offset="0.7021" stop-color="#ae301e"/><stop offset="0.7694" stop-color="#a21c11"/><stop offset="0.8363" stop-color="#940906"/><stop offset="0.9027" stop-color="#820000"/><stop offset="0.9689" stop-color="#6e0000"/><stop offset="1.0000" stop-color="#640000"/></linearGradient>
<linearGradient id="s60" gradientUnits="userSpaceOnUse" x1="52.4" x2="800.0" y1="0" y2="0"><stop offset="0.0000" stop-color="#c8beaa"/><stop offset="0.0080" stop-color="#c8bba3"/><stop offset="0.0162" stop-color="#c8b89d"/><stop offset="0.0251" stop-color="#c8b596"/><stop offset="0.0350" stop-color="#c7b390"/><stop offset="0.0468" stop-color="#c7af88"/><stop offset="0.0618" stop-color="#c7ab81"/><stop offset="0.1015" stop-color="#c7a77a"/><stop offset="0.1426" stop-color="#c7a372"/><stop offset="0.1853" stop-color="#c79e6d"/><stop offset="0.2283" stop-color="#c79a69"/><stop offset="0.2699" stop-color="#c79564"/><stop offset="0.3100" stop-color="#c7905f"/><stop offset="0.3488" stop-color="#c68858"/><stop offset="0.4233" stop-color="#c67648"/><stop offset="0.4951" stop-color="#c3653d"/><stop offset="0.5652" stop-color="#be5637"/><stop offset="0.6340" stop-color="#b7442d"/><stop offset="0.7020" stop-color="#ae301e"/><stop offset="0.7693" stop-color="#a21c11"/><stop offset="0.8362" stop-color="#940906"/><stop offset="0.9027" stop-color="#820000"/><stop offset="0.9689" stop-color="#6e0000"/><stop offset="1.0000" stop-color="#640000"/></linearGradient>
<linearGradient id="s61" gradientUnits="userSpaceOnUse" x1="52.4" x2="800.0" y1="0" y2="0"><stop offset="0.0000" stop-color="#c8beaa"/><stop offset="0.0074" stop-color="#c8bba3"/><stop offset="0.0150" stop-color="#c8b89d"/><stop offset="0.0232" stop-color="#c8b596"/><stop offset="0.0325" stop-color="#c7b390"/><stop offset="0.0434" stop-color="#c7af88"/><stop offset="0.0573" stop-color="#c7ab81"/><stop offset="0.0870" stop-color="#c7a77a"/><stop offset="0.1348" stop-color="#c7a372"/><stop offset="0.1803" stop-color="#c79f6e"/><stop offset="0.2252" stop-color="#c79a69"/><stop offset="0.2680" stop-color="#c79564"/><stop offset="0.3087" stop-color="#c7905f"/><stop offset="0.3478" stop-color="#c68858"/><stop offset="0.4228" stop-color="#c67648"/><stop offset="0.4948" stop-color="#c3653d"/><stop offset="0.5649" stop-color="#be5637"/><stop offset="0.6338" stop-color="#b7442d"/><stop offset="0.7019" stop-color="#ae301e"/><stop offset="0.7692" stop-color="#a21c11"/><stop offset="0.8361" stop-color="#940906"/><stop offset="0.9026" stop-color="#820000"/><stop offset="0.9688" stop-color="#6e0000"/><stop offset="1.0000" stop-color="#640000"/></linearGradient>
<linearGradient id="s62" gradientUnits="userSpaceOnUse" x1="52.4" x2="800.0" y1="0" y2="0"><stop offset="0.0000" stop-color="#c8beaa"/><stop offset="0.0068" stop-color="#c8bba3"/><stop offset="0.0139" stop-color="#c8b89d"/><stop offset="0.0214" stop-color="#c8b596"/><stop offset="0.0299" stop-color="#c7b390"/><stop offset="0.0400" stop-color="#c7af88"/><stop offset="0.0529" stop-color="#c7ab81"/><stop offset="0.0713" stop-color="#c7a779"/><stop offset="0.1254" stop-color="#c7a472"/><stop offset="0.1749" stop-color="#c79f6e"/><stop offset="0.2220" stop-color="#c79a69"/><stop offset="0.2660" stop-color="#c79564"/><stop offset="0.3074" stop-color="#c7905f"/><stop offset="0.3469" stop-color="#c68858"/><stop offset="0.4223" stop-color="#c67648"/><stop offset="0.4945" stop-color="#c3653d"/><stop offset="0.5647" stop-color="#be5637"/><stop offset="0.6337" stop-color="#b7442d"/><stop offset="0.7018" stop-color="#ae301e"/><stop offset="0.7692" stop-color="#a21c11"/><stop offset="0.8361" stop-color="#940906"/><stop offset="0.9026" stop-color="#820000"/><stop offset="0.9688" stop-color="#6e0000"/><stop offset="1.0000" stop-color="#640000"/></linearGradient>
<linearGradient id="s63" gradientUnits="userSpaceOnUse" x1="52.4" x2="800.0" y1="0" y2="0"><stop offset="0.0000" stop-color="#c8beaa"/><stop offset="0.0062" stop-color="#c8bba3"/><stop offset="0.0127" stop-color="#c8b89d"/><stop offset="0.0196" stop-color="#c8b596"/><stop offset="0.0274" stop-color="#c7b390"/><stop offset="0.0366" stop-color="#c7af88"/><stop offset="0.0484" stop-color="#c7ab81"/><stop offset="0.0653" stop-color="#c7a779"/><stop offset="0.1135" stop-color="#c7a472"/><stop offset="0.1689" stop-color="#c79f6e"/><stop offset="0.2188" stop-color="#c79a69"/><stop offset="0.2641" stop-color="#c79564"/><stop offset="0.3062" stop-color="#c7905f"/><stop offset="0.3461" stop-color="#c68858"/><stop offset="0.4218" stop-color="#c67648"/><stop offset="0.4942" stop-color="#c3653d"/><stop offset="0.5645" stop-color="#be5637"/><stop offset="0.6336" stop-color="#b7442d"/><stop offset="0.7017" stop-color="#ae301e"/><stop offset="0.7691" stop-color="#a21c11"/><stop offset="0.8360" stop-color="#940906"/><stop offset="0.9025" stop-color="#820000"/><stop offset="0.9687" stop-color="#6e0000"/><stop offset="1.0000" stop-color="#640000"/></linearGradient>
<linearGradient id="s64" gradientUnits="userSpaceOnUse" x1="52.4" x2="800.0" y1="0" y2="0"><stop offset="0.0000" stop-color="#c8beaa"/><stop offset="0.0057" stop-color="#c8bba3"/><stop offset="0.0115" stop-color="#c8b89d"/><stop offset="0.0178" stop-color="#c8b596"/><stop offset="0.0249" stop-color="#c7b390"/><stop offset="0.0333" stop-color="#c7af88"/><stop offset="0.0440" stop-color="#c7ab81"/><stop offset="0.0593" stop-color="#c7a779"/><stop offset="0.0931" stop-color="#c7a472"/><stop offset="0.1622" stop-color="#c79f6e"/><stop offset="0.2155" stop-color="#c79a69"/><stop offset="0.2622" stop-color="#c79564"/><stop offset="0.3050" stop-color="#c7905f"/><stop offset="0.3453" stop-color="#c68858"/><stop offset="0.4214" stop-color="#c67648"/><stop offset="0.4939" stop-color="#c3653d"/><stop offset="0.5644" stop-color="#be5637"/><stop offset="0.6334" stop-color="#b7442d"/><stop offset="0.7016" stop-color="#ae301e"/><stop offset="0.7690" stop-color="#a21c11"/><stop offset="0.8360" stop-color="#940906"/><stop offset="0.9025" stop-color="#820000"/><stop offset="0.9687" stop-color="#6e0000"/><stop offset="1.0000" stop-color="#640000"/></linearGradient>
<linearGradient id="s65" gradientUnits="userSpaceOnUse" x1="52.4" x2="800.0" y1="0" y2="0"><stop offset="0.0000" stop-color="#c8beaa"/><stop offset="0.0051" stop-color="#c8bba3"/><stop offset="0.0103" stop-color="#c8b89d"/><stop offset="0.0160" stop-color="#c8b596"/><stop offset="0.0224" stop-color="#c7b390"/><stop offset="0.0299" stop-color="#c7af88"/><stop offset="0.0395" stop-color="#c7ab81"/><stop offset="0.0533" stop-color="#c7a779"/><stop offset="0.0777" stop-color="#c7a372"/><stop offset="0.1544" stop-color="#c79f6e"/><stop offset="0.2122" stop-color="#c79a69"/><stop offset="0.2605" stop-color="#c79564"/><stop offset="0.3039" stop-color="#c7905f"/><stop offset="0.3445" stop-color="#c68858"/><stop offset="0.4210" stop-color="#c67648"/><stop offset="0.4937" stop-color="#c3653d"/><stop offset="0.5642" stop-color="#be5637"/><stop offset="0.6333" stop-color="#b7442d"/><stop offset="0.7015" stop-color="#ae301e"/><stop offset="0.7690" stop-color="#a21c11"/><stop offset="0.8359" stop-color="#940906"/><stop offset="0.9024" stop-color="#820000"/><stop offset="0.9687" stop-color="#6e0000"/><stop offset="1.0000" stop-color="#640000"/></linearGradient>
<linearGradient id="s66" gradientUnits="userSpaceOnUse" x1="52.4" x2="800.0" y1="0" y2="0"><stop offset="0.0000" stop-color="#c8beaa"/><stop offset="0.0045" stop-color="#c8bba3"/><stop offset="0.0092" stop-color="#c8b89d"/><stop offset="0.0142" stop-color="#c8b596"/><stop offset="0.0198" stop-color="#c7b390"/><stop offset="0.0265" stop-color="#c7af88"/><stop offset="0.0350" stop-color="#c7ab81"/><stop offset="0.0472" stop-color="#c7a779"/><stop offset="0.0690" stop-color="#c7a372"/><stop offset="0.1451" stop-color="#c79f6e"/><stop offset="0.2089" stop-color="#c79a69"/><stop offset="0.2588" stop-color="#c79564"/><stop offset="0.3029" stop-color="#c7905f"/><stop offset="0.3438" stop-color="#c68858"/><stop offset="0.4206" stop-color="#c67648"/><stop offset="0.4934" stop-color="#c3653d"/><stop offset="0.5640" stop-color="#be5637"/><stop offset="0.6332" stop-color="#b7442d"/><stop offset="0.7014" stop-color="#ae301e"/><stop offset="0.7689" stop-color="#a21c11"/><stop offset="0.8359" stop-color="#940906"/><stop offset="0.9024" stop-color="#820000"/><stop offset="0.9687" stop-color="#6e0000"/><stop offset="1.0000" stop-color="#640000"/></linearGradient>
<linearGradient id="s67" gradientUnits="userSpaceOnUse" x1="52.4" x2="800.0" y1="0" y2="0"><stop offset="0.0000" stop-color="#c8beaa"/><stop offset="0.0039" stop-color="#c8bba3"/><stop offset="0.0080" stop-color="#c8b89d"/><stop offset="0.0124" stop-color="#c8b596"/><stop offset="0.0173" stop-color="#c7b390"/><stop offset="0.0231" stop-color="#c7af88"/><stop offset="0.0306" stop-color="#c7ab81"/><stop offset="0.0412" stop-color="#c7a779"/><stop offset="0.0602" stop-color="#c7a372"/><stop offset="0.1331" stop-color="#c79f6e"/><stop offset="0.2056" stop-color="#c79a69"/><stop offset="0.2572" stop-color="#c79564"/><stop offset="0.3019" stop-color="#c7905f"/><stop offset="0.3432" stop-color="#c68858"/><stop offset="0.4203" stop-color="#c67648"/><stop offset="0.4932" stop-color="#c3653d"/><stop offset="0.5639" stop-color="#be5637"/><stop offset="0.6331" stop-color="#b7442d"/><stop offset="0.7013" stop-color="#ae301e"/><stop offset="0.7688" stop-color="#a21c11"/><stop offset="0.8358" stop-color="#940906"/><stop offset="0.9024" stop-color="#820000"/><stop offset="0.9686" stop-color="#6e0000"/><stop offset="1.0000" stop-color="#640000"/></linearGradient>
<linearGradient id="s68" gradientUnits="userSpaceOnUse" x1="52.4" x2="800.0" y1="0" y2="0"><stop offset="0.0000" stop-color="#c8beaa"/><stop offset="0.0034" stop-color="#c8bba3"/><stop offset="0.0068" stop-color="#c8b89d"/><stop offset="0.0106" stop-color="#c8b596"/><stop offset="0.0148" stop-color="#c7b390"/><stop offset="0.0198" stop-color="#c7af88"/><stop offset="0.0261" stop-color="#c7ab81"/><stop offset="0.0352" stop-color="#c7a779"/><stop offset="0.0514" stop-color="#c7a372"/><stop offset="0.1151" stop-color="#c79f6e"/><stop offset="0.2024" stop-color="#c79a69"/><stop offset="0.2558" stop-color="#c79564"/><stop offset="0.3011" stop-color="#c7905f"/><stop offset="0.3427" stop-color="#c68858"/><stop offset="0.4200" stop-color="#c67648"/><stop offset="0.4931" stop-color="#c3653d"/><stop offset="0.5638" stop-color="#be5637"/><stop offset="0.6330" stop-color="#b7442d"/><stop offset="0.7013" stop-color="#ae301e"/><stop offset="0.7688" stop-color="#a21c11"/><stop offset="0.8358" stop-color="#940906"/><stop offset="0.9024" stop-color="#820000"/><stop offset="0.9686" stop-color="#6e0000"/><stop offset="1.0000" stop-color="#640000"/></linearGradient>
<linearGradient id="s69" gradientUnits="userSpaceOnUse" x1="52.4" x2="800.0" y1="0" y2="0"><stop offset="0.0000" stop-color="#c8beaa"/><stop offset="0.0028" stop-color="#c8bba3"/><stop offset="0.0057" stop-color="#c8b89d"/><stop offset="0.0088" stop-color="#c8b596"/><stop offset="0.0123" stop-color="#c7b390"/><stop offset="0.0164" stop-color="#c7af88"/><stop offset="0.0216" stop-color="#c7ab81"/><stop offset="0.0292" stop-color="#c7a779"/><stop offset="0.0426" stop-color="#c7a372"/><stop offset="0.0899" stop-color="#c79e6d"/><stop offset="0.1994" stop-color="#c79a69"/><stop offset="0.2545" stop-color="#c79564"/><stop offset="0.3004" stop-color="#c7905f"/><stop offset="0.3422" stop-color="#c68858"/><stop offset="0.4198" stop-color="#c67648"/><stop offset="0.4929" stop-color="#c3653d"/><stop offset="0.5637" stop-color="#be5637"/><stop offset="0.6330" stop-color="#b7442d"/><stop offset="0.7012" stop-color="#ae301e"/><stop offset="0.7688" stop-color="#a21c11"/><stop offset="0.8358" stop-color="#940906"/><stop offset="0.9023" stop-color="#820000"/><stop offset="0.9686" stop-color="#6e0000"/><stop offset="1.0000" stop-color="#640000"/></linearGradient>
<linearGradient id="s70" gradientUnits="userSpaceOnUse" x1="52.4" x2="800.0" y1="0" y2="0"><stop offset="0.0000" stop-color="#c8beaa"/><stop offset="0.0022" stop-color="#c8bba3"/><stop offset="0.0045" stop-color="#c8b89d"/><stop offset="0.0070" stop-color="#c8b596"/><stop offset="0.0097" stop-color="#c7b390"/><stop offset="0.0130" stop-color="#c7af88"/><stop offset="0.0172" stop-color="#c7ab81"/><stop offset="0.0232" stop-color="#c7a779"/><stop offset="0.0338" stop-color="#c7a372"/><stop offset="0.0714" stop-color="#c79e6d"/><stop offset="0.1967" stop-color="#c79a69"/><stop offset="0.2534" stop-color="#c79564"/><stop offset="0.2998" stop-color="#c7905f"/><stop offset="0.3418" stop-color="#c68858"/><stop offset="0.4196" stop-color="#c67648"/><stop offset="0.4928" stop-color="#c3653d"/><stop offset="0.5636" stop-color="#be5637"/><stop offset="0.6329" stop-color="#b7442d"/><stop offset="0.7012" stop-color="#ae301e"/><stop offset="0.7687" stop-color="#a21c11"/><stop offset="0.8357" stop-color="#940906"/><stop offset="0.9023" stop-color="#820000"/><stop offset="0.9686" stop-color="#6e0000"/><stop offset="1.0000" stop-color="#640000"/></linearGradient>
<linearGradient id="s71" gradientUnits="userSpaceOnUse" x1="52.4" x2="800.0" y1="0" y2="0"><stop offset="0.0000" stop-color="#c8beaa"/><stop offset="0.0016" stop-color="#c8bba3"/><stop offset="0.0033" stop-color="#c8b89d"/><stop offset="0.0052" stop-color="#c8b596"/><stop offset="0.0072" stop-color="#c7b390"/><stop offset="0.0096" stop-color="#c7af88"/><stop offset="0.0127" stop-color="#c7ab81"/><stop offset="0.0172" stop-color="#c7a779"/><stop offset="0.0250" stop-color="#c7a372"/><stop offset="0.0528" stop-color="#c79e6d"/><stop offset="0.1944" stop-color="#c79a69"/><stop offset="0.2526" stop-color="#c79564"/><stop offset="0.2993" stop-color="#c7905f"/><stop offset="0.3415" stop-color="#c68858"/><stop offset="0.4194" stop-color="#c67648"/><stop offset="0.4927" stop-color="#c3653d"/><stop offset="0.5636" stop-color="#be5637"/><stop offset="0.6329" stop-color="#b7442d"/><stop offset="0.7012" stop-color="#ae301e"/><stop offset="0.7687" stop-color="#a21c11"/><stop offset="0.8357" stop-color="#940906"/><stop offset="0.9023" stop-color="#820000"/><stop offset="0.9686" stop-color="#6e0000"/><stop offset="1.0000" stop-color="#640000"/></linearGradient>
<linearGradient id="s72" gradientUnits="userSpaceOnUse" x1="52.4" x2="800.0" y1="0" y2="0"><stop offset="0.0000" stop-color="#c8beaa"/><stop offset="0.0011" stop-color="#c8bba3"/><stop offset="0.0022" stop-color="#c8b89d"/><stop offset="0.0033" stop-color="#c8b596"/><stop offset="0.0047" stop-color="#c7b390"/><stop offset="0.0063" stop-color="#c7af88"/><stop offset="0.0083" stop-color="#c7ab81"/><stop offset="0.0111" stop-color="#c7a779"/><stop offset="0.0163" stop-color="#c7a372"/><stop offset="0.0343" stop-color="#c79e6d"/><stop offset="0.1926" stop-color="#c79a69"/><stop offset="0.2520" stop-color="#c79564"/><stop offset="0.2990" stop-color="#c7905f"/><stop offset="0.3413" stop-color="#c68858"/><stop offset="0.4193" stop-color="#c67648"/><stop offset="0.4927" stop-color="#c3653d"/><stop offset="0.5635" stop-color="#be5637"/><stop offset="0.6329" stop-color="#b7442d"/><stop offset="0.7011" stop-color="#ae301e"/><stop offset="0.7687" stop-color="#a21c11"/><stop offset="0.8357" stop-color="#940906"/><stop offset="0.9023" stop-color="#820000"/><stop offset="0.9686" stop-color="#6e0000"/><stop offset="1.0000" stop-color="#640000"/></linearGradient>
<linearGradient id="s73" gradientUnits="userSpaceOnUse" x1="52.4" x2="800.0" y1="0" y2="0"><stop offset="0.0000" stop-color="#c8beaa"/><stop offset="0.0005" stop-color="#c8bba3"/><stop offset="0.0010" stop-color="#c8b89d"/><stop offset="0.0015" stop-color="#c8b596"/><stop offset="0.0022" stop-color="#c7b390"/><stop offset="0.0029" stop-color="#c7af88"/><stop offset="0.0038" stop-color="#c7ab81"/><stop offset="0.0051" stop-color="#c7a779"/><stop offset="0.0075" stop-color="#c7a372"/><stop offset="0.0158" stop-color="#c79e6d"/><stop offset="0.1916" stop-color="#c79a69"/><stop offset="0.2516" stop-color="#c79564"/><stop offset="0.2988" stop-color="#c7905f"/><stop offset="0.3412" stop-color="#c68858"/><stop offset="0.4192" stop-color="#c67648"/><stop offset="0.4926" stop-color="#c3653d"/><stop offset="0.5635" stop-color="#be5637"/><stop offset="0.6328" stop-color="#b7442d"/><stop offset="0.7011" stop-color="#ae301e"/><stop offset="0.7687" stop-color="#a21c11"/><stop offset="0.8357" stop-color="#940906"/><stop offset="0.9023" stop-color="#820000"/><stop offset="0.9685" stop-color="#6e0000"/><stop offset="1.0000" stop-color="#640000"/></linearGradient>
<linearGradient id="s74" gradientUnits="userSpaceOnUse" x1="52.4" x2="800.0" y1="0" y2="0"><stop offset="0.0000" stop-color="#c8beaa"/><stop offset="0.0002" stop-color="#c8bba3"/><stop offset="0.0003" stop-color="#c8b89c"/><stop offset="0.0005" stop-color="#c8b596"/><stop offset="0.0006" stop-color="#c7b390"/><stop offset="0.0009" stop-color="#c7ae87"/><stop offset="0.0012" stop-color="#c7aa80"/><stop offset="0.0016" stop-color="#c7a779"/><stop offset="0.0022" stop-color="#c7a372"/><stop offset="0.0046" stop-color="#c79e6d"/><stop offset="0.1913" stop-color="#c79a69"/><stop offset="0.2515" stop-color="#c79564"/><stop offset="0.2988" stop-color="#c7905f"/><stop offset="0.3412" stop-color="#c68858"/><stop offset="0.4192" stop-color="#c67648"/><stop offset="0.4926" stop-color="#c3653d"/><stop offset="0.5635" stop-color="#be5637"/><stop offset="0.6328" stop-color="#b7442d"/><stop offset="0.7011" stop-color="#ae301e"/><stop offset="0.7687" stop-color="#a21c11"/><stop offset="0.8357" stop-color="#940906"/><stop offset="0.9023" stop-color="#820000"/><stop offset="0.9685" stop-color="#6e0000"/><stop offset="1.0000" stop-color="#640000"/></linearGradient>
</defs>
<rect width="800" height="540" fill="#fff"/>
<g clip-path="url(#plate)" shape-rendering="crispEdges"><rect x="51.4" y="81.80" width="749.6" height="8.60" fill="url(#s0)"/><rect x="51.4" y="89.80" width="749.6" height="8.60" fill="url(#s1)"/><rect x="51.4" y="97.80" width="749.6" height="8.60" fill="url(#s2)"/><rect x="51.4" y="105.80" width="749.6" height="8.60" fill="url(#s3)"/><rect x="51.4" y="113.80" width="749.6" height="8.60" fill="url(#s4)"/><rect x="51.4" y="121.80" width="749.6" height="8.60" fill="url(#s5)"/><rect x="51.4" y="129.80" width="749.6" height="8.60" fill="url(#s6)"/><rect x="51.4" y="137.80" width="749.6" height="8.60" fill="url(#s7)"/><rect x="51.4" y="145.80" width="749.6" height="8.60" fill="url(#s8)"/><rect x="51.4" y="153.80" width="749.6" height="8.60" fill="url(#s9)"/><rect x="51.4" y="161.80" width="749.6" height="8.60" fill="url(#s10)"/><rect x="51.4" y="169.80" width="749.6" height="8.60" fill="url(#s11)"/><rect x="51.4" y="177.80" width="749.6" height="8.60" fill="url(#s12)"/><rect x="51.4" y="185.80" width="749.6" height="8.60" fill="url(#s13)"/><rect x="51.4" y="193.80" width="749.6" height="8.60" fill="url(#s14)"/><rect x="51.4" y="201.80" width="749.6" height="8.60" fill="url(#s15)"/><rect x="51.4" y="209.80" width="749.6" height="8.60" fill="url(#s16)"/><rect x="51.4" y="217.80" width="749.6" height="8.60" fill="url(#s17)"/><rect x="51.4" y="225.80" width="749.6" height="8.60" fill="url(#s18)"/><rect x="51.4" y="233.80" width="749.6" height="4.60" fill="url(#s19)"/><rect x="51.4" y="237.80" width="749.6" height="4.60" fill="url(#s20)"/><rect x="51.4" y="241.80" width="749.6" height="4.60" fill="url(#s21)"/><rect x="51.4" y="245.80" width="749.6" height="4.60" fill="url(#s22)"/><rect x="51.4" y="249.80" width="749.6" height="4.60" fill="url(#s23)"/><rect x="51.4" y="253.80" width="749.6" height="4.60" fill="url(#s24)"/><rect x="51.4" y="257.80" width="749.6" height="4.60" fill="url(#s25)"/><rect x="51.4" y="261.80" width="749.6" height="4.60" fill="url(#s26)"/><rect x="51.4" y="265.80" width="749.6" height="4.60" fill="url(#s27)"/><rect x="51.4" y="269.80" width="749.6" height="4.60" fill="url(#s28)"/><rect x="51.4" y="273.80" width="749.6" height="4.60" fill="url(#s29)"/><rect x="51.4" y="277.80" width="749.6" height="4.60" fill="url(#s30)"/><rect x="51.4" y="281.80" width="749.6" height="4.60" fill="url(#s31)"/><rect x="51.4" y="285.80" width="749.6" height="4.60" fill="url(#s32)"/><rect x="51.4" y="289.80" width="749.6" height="4.60" fill="url(#s33)"/><rect x="51.4" y="293.80" width="749.6" height="4.60" fill="url(#s34)"/><rect x="51.4" y="297.80" width="749.6" height="4.60" fill="url(#s35)"/><rect x="51.4" y="301.80" width="749.6" height="4.60" fill="url(#s36)"/><rect x="51.4" y="305.80" width="749.6" height="4.60" fill="url(#s37)"/><rect x="51.4" y="309.80" width="749.6" height="4.60" fill="url(#s38)"/><rect x="51.4" y="313.80" width="749.6" height="4.60" fill="url(#s39)"/><rect x="51.4" y="317.80" width="749.6" height="4.60" fill="url(#s40)"/><rect x="51.4" y="321.80" width="749.6" height="4.60" fill="url(#s41)"/><rect x="51.4" y="325.80" width="749.6" height="4.60" fill="url(#s42)"/><rect x="51.4" y="329.80" width="749.6" height="4.60" fill="url(#s43)"/><rect x="51.4" y="333.80" width="749.6" height="4.60" fill="url(#s44)"/><rect x="51.4" y="337.80" width="749.6" height="4.60" fill="url(#s45)"/><rect x="51.4" y="341.80" width="749.6" height="4.60" fill="url(#s46)"/><rect x="51.4" y="345.80" width="749.6" height="4.60" fill="url(#s47)"/><rect x="51.4" y="349.80" width="749.6" height="4.60" fill="url(#s48)"/><rect x="51.4" y="353.80" width="749.6" height="4.60" fill="url(#s49)"/><rect x="51.4" y="357.80" width="749.6" height="4.60" fill="url(#s50)"/><rect x="51.4" y="361.80" width="749.6" height="4.60" fill="url(#s51)"/><rect x="51.4" y="365.80" width="749.6" height="4.60" fill="url(#s52)"/><rect x="51.4" y="369.80" width="749.6" height="4.60" fill="url(#s53)"/><rect x="51.4" y="373.80" width="749.6" height="4.60" fill="url(#s54)"/><rect x="51.4" y="377.80" width="749.6" height="4.60" fill="url(#s55)"/><rect x="51.4" y="381.80" width="749.6" height="4.60" fill="url(#s56)"/><rect x="51.4" y="385.80" width="749.6" height="4.60" fill="url(#s57)"/><rect x="51.4" y="389.80" width="749.6" height="4.60" fill="url(#s58)"/><rect x="51.4" y="393.80" width="749.6" height="4.60" fill="url(#s59)"/><rect x="51.4" y="397.80" width="749.6" height="4.60" fill="url(#s60)"/><rect x="51.4" y="401.80" width="749.6" height="4.60" fill="url(#s61)"/><rect x="51.4" y="405.80" width="749.6" height="4.60" fill="url(#s62)"/><rect x="51.4" y="409.80" width="749.6" height="4.60" fill="url(#s63)"/><rect x="51.4" y="413.80" width="749.6" height="4.60" fill="url(#s64)"/><rect x="51.4" y="417.80" width="749.6" height="4.60" fill="url(#s65)"/><rect x="51.4" y="421.80" width="749.6" height="4.60" fill="url(#s66)"/><rect x="51.4" y="425.80" width="749.6" height="4.60" fill="url(#s67)"/><rect x="51.4" y="429.80" width="749.6" height="4.60" fill="url(#s68)"/><rect x="51.4" y="433.80" width="749.6" height="4.60" fill="url(#s69)"/><rect x="51.4" y="437.80" width="749.6" height="4.60" fill="url(#s70)"/><rect x="51.4" y="441.80" width="749.6" height="4.60" fill="url(#s71)"/><rect x="51.4" y="445.80" width="749.6" height="4.60" fill="url(#s72)"/><rect x="51.4" y="449.80" width="749.6" height="4.60" fill="url(#s73)"/><rect x="51.4" y="453.80" width="749.6" height="4.60" fill="url(#s74)"/></g>
<path d="M52.4 82.8Q101.7 82.8 162.5 82.8M162.5 82.8Q158.9 135.1 153.8 186.2M153.8 186.2Q97.5 182.4 52.4 181.8M52.4 181.8Q52.4 132.3 52.4 82.8M52.4 181.8Q97.5 182.4 153.8 186.2M153.8 186.2Q147.1 236.2 138.9 284.9M138.9 284.9Q91.2 273.8 52.4 281.0M52.4 281.0Q52.4 231.4 52.4 181.8M162.5 82.8Q212.2 82.8 262.0 82.8M262.0 82.8Q255.6 139.5 249.2 196.2M249.2 196.2Q199.9 191.0 153.8 186.2M153.8 186.2Q158.9 135.1 162.5 82.8M153.8 186.2Q199.9 191.0 249.2 196.2M249.2 196.2Q242.4 255.0 230.3 329.7M230.3 329.7Q180.4 295.5 138.9 284.9M138.9 284.9Q147.1 236.2 153.8 186.2M262.0 82.8Q317.9 82.8 373.8 82.8M373.8 82.8Q368.8 142.1 363.8 203.0M363.8 203.0Q304.8 200.7 249.2 196.2M249.2 196.2Q255.6 139.5 262.0 82.8M249.2 196.2Q304.8 200.7 363.8 203.0M363.8 203.0Q357.7 265.9 353.5 330.0M353.5 330.0Q293.1 329.9 230.3 329.7M230.3 329.7Q242.4 255.0 249.2 196.2M373.8 82.8Q426.2 82.8 478.8 82.8M478.8 82.8Q475.6 143.2 472.5 204.5M472.5 204.5Q418.8 204.5 363.8 203.0M363.8 203.0Q368.8 142.1 373.8 82.8M363.8 203.0Q418.8 204.5 472.5 204.5M472.5 204.5Q469.4 266.9 466.8 330.0M466.8 330.0Q411.7 330.0 353.5 330.0M353.5 330.0Q357.7 265.9 363.8 203.0M478.8 82.8Q532.1 82.8 585.5 82.8M585.5 82.8Q583.7 143.5 581.8 205.0M581.8 205.0Q527.2 204.9 472.5 204.5M472.5 204.5Q475.6 143.2 478.8 82.8M472.5 204.5Q527.2 204.9 581.8 205.0M581.8 205.0Q579.5 267.5 577.5 330.5M577.5 330.5Q522.5 330.2 466.8 330.0M466.8 330.0Q469.4 266.9 472.5 204.5M585.5 82.8Q639.0 82.8 692.5 82.8M692.5 82.8Q691.2 143.9 690.0 205.5M690.0 205.5Q635.8 205.3 581.8 205.0M581.8 205.0Q583.7 143.5 585.5 82.8M581.8 205.0Q635.8 205.3 690.0 205.5M690.0 205.5Q688.8 267.8 688.0 330.5M688.0 330.5Q632.7 330.4 577.5 330.5M577.5 330.5Q579.5 267.5 581.8 205.0M692.5 82.8Q746.0 82.8 799.5 82.8M799.5 82.8Q799.5 144.3 799.5 205.8M799.5 205.8Q744.6 205.7 690.0 205.5M690.0 205.5Q691.2 143.9 692.5 82.8M690.0 205.5Q744.6 205.7 799.5 205.8M799.5 205.8Q799.5 268.8 799.5 331.8M799.5 331.8Q743.6 331.0 688.0 330.5M688.0 330.5Q688.8 267.8 690.0 205.5M230.3 329.7Q293.1 329.9 353.5 330.0M353.5 330.0Q351.2 392.6 350.8 454.7M350.8 454.7Q295.0 454.7 239.2 454.7M239.2 454.7Q234.0 393.6 230.3 329.7M353.5 330.0Q411.7 330.0 466.8 330.0M466.8 330.0Q464.4 392.5 462.5 454.7M462.5 454.7Q406.6 454.7 350.8 454.7M350.8 454.7Q351.2 392.6 353.5 330.0M466.8 330.0Q522.5 330.2 577.5 330.5M577.5 330.5Q576.0 392.8 575.0 454.7M575.0 454.7Q518.8 454.7 462.5 454.7M462.5 454.7Q464.4 392.5 466.8 330.0M577.5 330.5Q632.7 330.4 688.0 330.5M688.0 330.5Q687.6 392.7 687.5 454.7M687.5 454.7Q631.2 454.7 575.0 454.7M575.0 454.7Q576.0 392.8 577.5 330.5M688.0 330.5Q743.6 331.0 799.5 331.8M799.5 331.8Q799.5 393.2 799.5 454.7M799.5 454.7Q743.5 454.7 687.5 454.7M687.5 454.7Q687.6 392.7 688.0 330.5M52.4 281.0Q71.8 277.4 93.4 278.4M93.4 278.4Q92.2 302.1 90.2 323.2M90.2 323.2Q71.7 327.1 52.4 330.4M52.4 330.4Q52.4 305.5 52.4 281.0M93.4 278.4Q115.0 279.4 138.9 284.9M138.9 284.9Q131.8 298.6 126.5 314.7M126.5 314.7Q108.7 319.3 90.2 323.2M90.2 323.2Q92.2 302.1 93.4 278.4M90.2 323.2Q108.7 319.3 126.5 314.7M126.5 314.7Q121.2 330.8 117.7 349.4M117.7 349.4Q101.9 355.0 85.6 362.8M85.6 362.8Q88.2 344.3 90.2 323.2M52.4 330.4Q62.0 328.8 71.5 327.0M71.5 327.0Q71.1 338.5 70.5 349.6M70.5 349.6Q61.6 352.5 52.4 355.4M52.4 355.4Q52.4 342.8 52.4 330.4M71.5 327.0Q80.9 325.2 90.2 323.2M90.2 323.2Q89.2 333.8 88.1 343.6M88.1 343.6Q79.4 346.6 70.5 349.6M70.5 349.6Q71.1 338.5 71.5 327.0M70.5 349.6Q79.4 346.6 88.1 343.6M88.1 343.6Q86.9 353.6 85.6 362.8M85.6 362.8Q77.4 366.7 69.1 371.1M69.1 371.1Q69.9 360.6 70.5 349.6M52.4 355.4Q61.6 352.5 70.5 349.6M70.5 349.6Q69.9 360.6 69.1 371.1M69.1 371.1Q60.8 375.5 52.4 380.5M52.4 380.5Q52.4 367.9 52.4 355.4M138.9 284.9Q180.4 295.5 230.3 329.7M230.3 329.7Q194.8 355.6 157.8 376.7M157.8 376.7Q137.6 362.2 117.7 349.4M117.7 349.4Q124.7 312.2 138.9 284.9M52.4 380.5Q60.8 375.5 69.1 371.1M69.1 371.1Q79.3 375.3 87.4 381.5M87.4 381.5Q81.6 383.4 76.3 384.9M76.3 384.9Q66.3 380.8 52.4 380.5M69.1 371.1Q77.4 366.7 85.6 362.8M85.6 362.8Q93.9 367.2 101.3 372.4M101.3 372.4Q94.1 377.2 87.4 381.5M87.4 381.5Q79.3 375.3 69.1 371.1M87.4 381.5Q94.1 377.2 101.3 372.4M101.3 372.4Q110.3 378.6 118.3 385.7M118.3 385.7Q113.3 391.7 109.1 396.9M109.1 396.9Q99.3 388.2 87.4 381.5M76.3 384.9Q81.6 383.4 87.4 381.5M87.4 381.5Q99.3 388.2 109.1 396.9M109.1 396.9Q106.9 399.9 105.4 402.2M105.4 402.2Q92.8 391.6 76.3 384.9M85.6 362.8Q101.9 355.0 117.7 349.4M117.7 349.4Q127.7 355.8 137.7 362.6M137.7 362.6Q126.4 375.8 118.3 385.7M118.3 385.7Q100.7 370.5 85.6 362.8M118.3 385.7Q126.4 375.8 137.7 362.6M137.7 362.6Q147.7 369.4 157.8 376.7M157.8 376.7Q151.2 395.7 143.6 415.2M143.6 415.2Q135.7 402.3 118.3 385.7M105.4 402.2Q106.9 399.9 109.1 396.9M109.1 396.9Q118.3 405.2 125.4 415.5M125.4 415.5Q122.2 420.3 119.6 424.4M119.6 424.4Q114.5 411.4 105.4 402.2M109.1 396.9Q113.3 391.7 118.3 385.7M118.3 385.7Q126.3 393.1 133.3 401.4M133.3 401.4Q129.1 408.8 125.4 415.5M125.4 415.5Q118.3 405.2 109.1 396.9M125.4 415.5Q129.1 408.8 133.3 401.4M133.3 401.4Q138.9 407.9 143.6 415.2M143.6 415.2Q139.8 424.9 135.7 434.8M135.7 434.8Q131.6 424.1 125.4 415.5M119.6 424.4Q122.2 420.3 125.4 415.5M125.4 415.5Q131.6 424.1 135.7 434.8M135.7 434.8Q131.6 444.7 127.3 454.7M127.3 454.7Q125.4 437.6 119.6 424.4M157.8 376.7Q176.3 366.1 194.4 354.4M194.4 354.4Q191.7 379.3 188.9 404.4M188.9 404.4Q166.2 410.0 143.6 415.2M143.6 415.2Q151.2 395.7 157.8 376.7M194.4 354.4Q212.5 342.6 230.3 329.7M230.3 329.7Q232.2 361.6 234.4 392.9M234.4 392.9Q211.6 398.8 188.9 404.4M188.9 404.4Q191.7 379.3 194.4 354.4M188.9 404.4Q211.6 398.8 234.4 392.9M234.4 392.9Q236.6 424.1 239.2 454.7M239.2 454.7Q211.3 454.7 183.3 454.7M183.3 454.7Q186.1 429.5 188.9 404.4M143.6 415.2Q154.9 412.6 166.2 409.9M166.2 409.9Q163.6 421.0 160.9 432.2M160.9 432.2Q148.3 433.5 135.7 434.8M135.7 434.8Q139.8 424.9 143.6 415.2M166.2 409.9Q177.6 407.2 188.9 404.4M188.9 404.4Q187.5 416.9 186.1 429.5M186.1 429.5Q173.5 430.9 160.9 432.2M160.9 432.2Q163.6 421.0 166.2 409.9M160.9 432.2Q173.5 430.9 186.1 429.5M186.1 429.5Q184.7 442.1 183.3 454.7M183.3 454.7Q169.3 454.7 155.3 454.7M155.3 454.7Q158.2 443.4 160.9 432.2M135.7 434.8Q148.3 433.5 160.9 432.2M160.9 432.2Q158.2 443.4 155.3 454.7M155.3 454.7Q141.3 454.7 127.3 454.7M127.3 454.7Q131.6 444.7 135.7 434.8" fill="none" stroke="#000" stroke-width="1.45" stroke-linecap="round" stroke-linejoin="round"/>
<g><circle cx="63.6" cy="94.0" r="2" fill="#15ac87"/><circle cx="63.6" cy="94.0" r="2" fill="url(#sh)"/><circle cx="104.2" cy="94.2" r="2" fill="#15ac87"/><circle cx="104.2" cy="94.2" r="2" fill="url(#sh)"/><circle cx="148.2" cy="94.5" r="2" fill="#16ad85"/><circle cx="148.2" cy="94.5" r="2" fill="url(#sh)"/><circle cx="63.2" cy="132.4" r="2" fill="#15ac87"/><circle cx="63.2" cy="132.4" r="2" fill="url(#sh)"/><circle cx="102.6" cy="133.2" r="2" fill="#16ad85"/><circle cx="102.6" cy="133.2" r="2" fill="url(#sh)"/><circle cx="145.4" cy="134.4" r="2" fill="#17ae83"/><circle cx="145.4" cy="134.4" r="2" fill="url(#sh)"/><circle cx="62.8" cy="170.8" r="2" fill="#16ad85"/><circle cx="62.8" cy="170.8" r="2" fill="url(#sh)"/><circle cx="100.9" cy="171.9" r="2" fill="#17ae83"/><circle cx="100.9" cy="171.9" r="2" fill="url(#sh)"/><circle cx="142.2" cy="174.0" r="2" fill="#18af81"/><circle cx="142.2" cy="174.0" r="2" fill="url(#sh)"/><circle cx="62.6" cy="193.0" r="2" fill="#17ae83"/><circle cx="62.6" cy="193.0" r="2" fill="url(#sh)"/><circle cx="99.6" cy="194.0" r="2" fill="#18af81"/><circle cx="99.6" cy="194.0" r="2" fill="url(#sh)"/><circle cx="139.9" cy="196.5" r="2" fill="#1ab07f"/><circle cx="139.9" cy="196.5" r="2" fill="url(#sh)"/><circle cx="62.0" cy="230.8" r="2" fill="#1cb17d"/><circle cx="62.0" cy="230.8" r="2" fill="url(#sh)"/><circle cx="97.0" cy="230.9" r="2" fill="#1db27b"/><circle cx="97.0" cy="230.9" r="2" fill="url(#sh)"/><circle cx="135.1" cy="234.3" r="2" fill="#1fb379"/><circle cx="135.1" cy="234.3" r="2" fill="url(#sh)"/><circle cx="61.4" cy="268.6" r="2" fill="#28b66f"/><circle cx="61.4" cy="268.6" r="2" fill="url(#sh)"/><circle cx="94.3" cy="267.7" r="2" fill="#28b66f"/><circle cx="94.3" cy="267.7" r="2" fill="url(#sh)"/><circle cx="129.8" cy="271.8" r="2" fill="#2db86a"/><circle cx="129.8" cy="271.8" r="2" fill="url(#sh)"/><circle cx="172.8" cy="94.7" r="2" fill="#16ad85"/><circle cx="172.8" cy="94.7" r="2" fill="url(#sh)"/><circle cx="211.0" cy="95.1" r="2" fill="#16ad85"/><circle cx="211.0" cy="95.1" r="2" fill="url(#sh)"/><circle cx="249.4" cy="95.5" r="2" fill="#16ad85"/><circle cx="249.4" cy="95.5" r="2" fill="url(#sh)"/><circle cx="169.3" cy="135.3" r="2" fill="#17ae83"/><circle cx="169.3" cy="135.3" r="2" fill="url(#sh)"/><circle cx="206.7" cy="137.1" r="2" fill="#17ae83"/><circle cx="206.7" cy="137.1" r="2" fill="url(#sh)"/><circle cx="244.5" cy="139.0" r="2" fill="#17ae83"/><circle cx="244.5" cy="139.0" r="2" fill="url(#sh)"/><circle cx="165.4" cy="175.6" r="2" fill="#18af81"/><circle cx="165.4" cy="175.6" r="2" fill="url(#sh)"/><circle cx="202.1" cy="179.0" r="2" fill="#1ab07f"/><circle cx="202.1" cy="179.0" r="2" fill="url(#sh)"/><circle cx="239.6" cy="182.4" r="2" fill="#18af81"/><circle cx="239.6" cy="182.4" r="2" fill="url(#sh)"/><circle cx="162.6" cy="198.5" r="2" fill="#1cb17d"/><circle cx="162.6" cy="198.5" r="2" fill="url(#sh)"/><circle cx="199.0" cy="202.8" r="2" fill="#1cb17d"/><circle cx="199.0" cy="202.8" r="2" fill="url(#sh)"/><circle cx="236.5" cy="208.0" r="2" fill="#1ab07f"/><circle cx="236.5" cy="208.0" r="2" fill="url(#sh)"/><circle cx="156.8" cy="237.3" r="2" fill="#21b476"/><circle cx="156.8" cy="237.3" r="2" fill="url(#sh)"/><circle cx="192.4" cy="244.4" r="2" fill="#1fb379"/><circle cx="192.4" cy="244.4" r="2" fill="url(#sh)"/><circle cx="229.9" cy="255.2" r="2" fill="#1cb17d"/><circle cx="229.9" cy="255.2" r="2" fill="url(#sh)"/><circle cx="150.3" cy="276.2" r="2" fill="#2db86a"/><circle cx="150.3" cy="276.2" r="2" fill="url(#sh)"/><circle cx="184.9" cy="288.2" r="2" fill="#26b572"/><circle cx="184.9" cy="288.2" r="2" fill="url(#sh)"/><circle cx="221.8" cy="306.6" r="2" fill="#1ab07f"/><circle cx="221.8" cy="306.6" r="2" fill="url(#sh)"/><circle cx="273.2" cy="95.7" r="2" fill="#16ad85"/><circle cx="273.2" cy="95.7" r="2" fill="url(#sh)"/><circle cx="316.5" cy="95.9" r="2" fill="#16ad85"/><circle cx="316.5" cy="95.9" r="2" fill="url(#sh)"/><circle cx="360.0" cy="96.1" r="2" fill="#15ac87"/><circle cx="360.0" cy="96.1" r="2" fill="url(#sh)"/><circle cx="268.2" cy="140.0" r="2" fill="#17ae83"/><circle cx="268.2" cy="140.0" r="2" fill="url(#sh)"/><circle cx="311.8" cy="141.3" r="2" fill="#16ad85"/><circle cx="311.8" cy="141.3" r="2" fill="url(#sh)"/><circle cx="355.8" cy="142.2" r="2" fill="#15ac87"/><circle cx="355.8" cy="142.2" r="2" fill="url(#sh)"/><circle cx="263.3" cy="184.3" r="2" fill="#18af81"/><circle cx="263.3" cy="184.3" r="2" fill="url(#sh)"/><circle cx="307.1" cy="186.8" r="2" fill="#16ad85"/><circle cx="307.1" cy="186.8" r="2" fill="url(#sh)"/><circle cx="351.7" cy="188.8" r="2" fill="#15ac87"/><circle cx="351.7" cy="188.8" r="2" fill="url(#sh)"/><circle cx="260.3" cy="210.7" r="2" fill="#18af81"/><circle cx="260.3" cy="210.7" r="2" fill="url(#sh)"/><circle cx="304.4" cy="213.9" r="2" fill="#16ad85"/><circle cx="304.4" cy="213.9" r="2" fill="url(#sh)"/><circle cx="349.2" cy="216.5" r="2" fill="#15ac87"/><circle cx="349.2" cy="216.5" r="2" fill="url(#sh)"/><circle cx="254.3" cy="259.9" r="2" fill="#18af81"/><circle cx="254.3" cy="259.9" r="2" fill="url(#sh)"/><circle cx="299.5" cy="262.9" r="2" fill="#15ac87"/><circle cx="299.5" cy="262.9" r="2" fill="url(#sh)"/><circle cx="344.9" cy="265.5" r="2" fill="#13aa8a"/><circle cx="344.9" cy="265.5" r="2" fill="url(#sh)"/><circle cx="246.8" cy="313.4" r="2" fill="#16ad85"/><circle cx="246.8" cy="313.4" r="2" fill="url(#sh)"/><circle cx="294.2" cy="314.4" r="2" fill="#12a98c"/><circle cx="294.2" cy="314.4" r="2" fill="url(#sh)"/><circle cx="341.0" cy="315.3" r="2" fill="#12a790"/><circle cx="341.0" cy="315.3" r="2" fill="url(#sh)"/><circle cx="384.5" cy="96.2" r="2" fill="#15ac87"/><circle cx="384.5" cy="96.2" r="2" fill="url(#sh)"/><circle cx="425.4" cy="96.3" r="2" fill="#14ab89"/><circle cx="425.4" cy="96.3" r="2" fill="url(#sh)"/><circle cx="466.2" cy="96.4" r="2" fill="#14ab89"/><circle cx="466.2" cy="96.4" r="2" fill="url(#sh)"/><circle cx="380.9" cy="142.7" r="2" fill="#15ac87"/><circle cx="380.9" cy="142.7" r="2" fill="url(#sh)"/><circle cx="422.3" cy="143.1" r="2" fill="#14ab89"/><circle cx="422.3" cy="143.1" r="2" fill="url(#sh)"/><circle cx="463.6" cy="143.4" r="2" fill="#14ab89"/><circle cx="463.6" cy="143.4" r="2" fill="url(#sh)"/><circle cx="377.2" cy="189.6" r="2" fill="#14ab89"/><circle cx="377.2" cy="189.6" r="2" fill="url(#sh)"/><circle cx="419.3" cy="190.3" r="2" fill="#14ab89"/><circle cx="419.3" cy="190.3" r="2" fill="url(#sh)"/><circle cx="461.1" cy="190.7" r="2" fill="#13aa8a"/><circle cx="461.1" cy="190.7" r="2" fill="url(#sh)"/><circle cx="374.9" cy="217.5" r="2" fill="#14ab89"/><circle cx="374.9" cy="217.5" r="2" fill="url(#sh)"/><circle cx="417.5" cy="218.2" r="2" fill="#13aa8a"/><circle cx="417.5" cy="218.2" r="2" fill="url(#sh)"/><circle cx="459.6" cy="218.6" r="2" fill="#12a98c"/><circle cx="459.6" cy="218.6" r="2" fill="url(#sh)"/><circle cx="370.9" cy="266.4" r="2" fill="#12a98c"/><circle cx="370.9" cy="266.4" r="2" fill="url(#sh)"/><circle cx="414.4" cy="266.8" r="2" fill="#12a88e"/><circle cx="414.4" cy="266.8" r="2" fill="url(#sh)"/><circle cx="457.2" cy="267.0" r="2" fill="#12a88e"/><circle cx="457.2" cy="267.0" r="2" fill="url(#sh)"/><circle cx="367.5" cy="315.6" r="2" fill="#12a692"/><circle cx="367.5" cy="315.6" r="2" fill="url(#sh)"/><circle cx="411.6" cy="315.7" r="2" fill="#12a692"/><circle cx="411.6" cy="315.7" r="2" fill="url(#sh)"/><circle cx="454.9" cy="315.8" r="2" fill="#12a692"/><circle cx="454.9" cy="315.8" r="2" fill="url(#sh)"/><circle cx="490.1" cy="96.4" r="2" fill="#14ab89"/><circle cx="490.1" cy="96.4" r="2" fill="url(#sh)"/><circle cx="531.6" cy="96.5" r="2" fill="#13aa8a"/><circle cx="531.6" cy="96.5" r="2" fill="url(#sh)"/><circle cx="573.0" cy="96.5" r="2" fill="#13aa8a"/><circle cx="573.0" cy="96.5" r="2" fill="url(#sh)"/><circle cx="487.8" cy="143.5" r="2" fill="#13aa8a"/><circle cx="487.8" cy="143.5" r="2" fill="url(#sh)"/><circle cx="529.6" cy="143.6" r="2" fill="#13aa8a"/><circle cx="529.6" cy="143.6" r="2" fill="url(#sh)"/><circle cx="571.5" cy="143.7" r="2" fill="#13aa8a"/><circle cx="571.5" cy="143.7" r="2" fill="url(#sh)"/><circle cx="485.5" cy="190.8" r="2" fill="#13aa8a"/><circle cx="485.5" cy="190.8" r="2" fill="url(#sh)"/><circle cx="527.7" cy="191.0" r="2" fill="#12a98c"/><circle cx="527.7" cy="191.0" r="2" fill="url(#sh)"/><circle cx="569.9" cy="191.1" r="2" fill="#12a98c"/><circle cx="569.9" cy="191.1" r="2" fill="url(#sh)"/><circle cx="484.2" cy="218.7" r="2" fill="#12a98c"/><circle cx="484.2" cy="218.7" r="2" fill="url(#sh)"/><circle cx="526.6" cy="218.9" r="2" fill="#12a98c"/><circle cx="526.6" cy="218.9" r="2" fill="url(#sh)"/><circle cx="568.9" cy="219.1" r="2" fill="#12a98c"/><circle cx="568.9" cy="219.1" r="2" fill="url(#sh)"/><circle cx="481.9" cy="267.1" r="2" fill="#12a88e"/><circle cx="481.9" cy="267.1" r="2" fill="url(#sh)"/><circle cx="524.6" cy="267.4" r="2" fill="#12a88e"/><circle cx="524.6" cy="267.4" r="2" fill="url(#sh)"/><circle cx="567.2" cy="267.6" r="2" fill="#12a88e"/><circle cx="567.2" cy="267.6" r="2" fill="url(#sh)"/><circle cx="479.9" cy="315.8" r="2" fill="#12a692"/><circle cx="479.9" cy="315.8" r="2" fill="url(#sh)"/><circle cx="522.8" cy="316.1" r="2" fill="#12a790"/><circle cx="522.8" cy="316.1" r="2" fill="url(#sh)"/><circle cx="565.5" cy="316.2" r="2" fill="#12a790"/><circle cx="565.5" cy="316.2" r="2" fill="url(#sh)"/><circle cx="597.2" cy="96.5" r="2" fill="#13aa8a"/><circle cx="597.2" cy="96.5" r="2" fill="url(#sh)"/><circle cx="638.6" cy="96.5" r="2" fill="#13aa8a"/><circle cx="638.6" cy="96.5" r="2" fill="url(#sh)"/><circle cx="680.1" cy="96.6" r="2" fill="#13aa8a"/><circle cx="680.1" cy="96.6" r="2" fill="url(#sh)"/><circle cx="595.8" cy="143.7" r="2" fill="#12a98c"/><circle cx="595.8" cy="143.7" r="2" fill="url(#sh)"/><circle cx="637.4" cy="143.9" r="2" fill="#12a98c"/><circle cx="637.4" cy="143.9" r="2" fill="url(#sh)"/><circle cx="679.1" cy="144.0" r="2" fill="#12a98c"/><circle cx="679.1" cy="144.0" r="2" fill="url(#sh)"/><circle cx="594.4" cy="191.2" r="2" fill="#12a98c"/><circle cx="594.4" cy="191.2" r="2" fill="url(#sh)"/><circle cx="636.2" cy="191.4" r="2" fill="#12a98c"/><circle cx="636.2" cy="191.4" r="2" fill="url(#sh)"/><circle cx="678.1" cy="191.6" r="2" fill="#12a98c"/><circle cx="678.1" cy="191.6" r="2" fill="url(#sh)"/><circle cx="593.5" cy="219.1" r="2" fill="#12a98c"/><circle cx="593.5" cy="219.1" r="2" fill="url(#sh)"/><circle cx="635.5" cy="219.3" r="2" fill="#12a88e"/><circle cx="635.5" cy="219.3" r="2" fill="url(#sh)"/><circle cx="677.5" cy="219.5" r="2" fill="#12a88e"/><circle cx="677.5" cy="219.5" r="2" fill="url(#sh)"/><circle cx="591.9" cy="267.7" r="2" fill="#12a88e"/><circle cx="591.9" cy="267.7" r="2" fill="url(#sh)"/><circle cx="634.2" cy="267.8" r="2" fill="#12a88e"/><circle cx="634.2" cy="267.8" r="2" fill="url(#sh)"/><circle cx="676.5" cy="267.9" r="2" fill="#12a88e"/><circle cx="676.5" cy="267.9" r="2" fill="url(#sh)"/><circle cx="590.4" cy="316.3" r="2" fill="#12a790"/><circle cx="590.4" cy="316.3" r="2" fill="url(#sh)"/><circle cx="633.0" cy="316.3" r="2" fill="#12a790"/><circle cx="633.0" cy="316.3" r="2" fill="url(#sh)"/><circle cx="675.7" cy="316.4" r="2" fill="#12a88e"/><circle cx="675.7" cy="316.4" r="2" fill="url(#sh)"/><circle cx="704.3" cy="96.6" r="2" fill="#12a98c"/><circle cx="704.3" cy="96.6" r="2" fill="url(#sh)"/><circle cx="745.8" cy="96.6" r="2" fill="#12a98c"/><circle cx="745.8" cy="96.6" r="2" fill="url(#sh)"/><circle cx="787.4" cy="96.6" r="2" fill="#12a98c"/><circle cx="787.4" cy="96.6" r="2" fill="url(#sh)"/><circle cx="703.4" cy="144.0" r="2" fill="#12a98c"/><circle cx="703.4" cy="144.0" r="2" fill="url(#sh)"/><circle cx="745.3" cy="144.1" r="2" fill="#12a98c"/><circle cx="745.3" cy="144.1" r="2" fill="url(#sh)"/><circle cx="787.3" cy="144.2" r="2" fill="#12a98c"/><circle cx="787.3" cy="144.2" r="2" fill="url(#sh)"/><circle cx="702.6" cy="191.7" r="2" fill="#12a98c"/><circle cx="702.6" cy="191.7" r="2" fill="url(#sh)"/><circle cx="744.8" cy="191.8" r="2" fill="#12a98c"/><circle cx="744.8" cy="191.8" r="2" fill="url(#sh)"/><circle cx="787.2" cy="191.9" r="2" fill="#12a98c"/><circle cx="787.2" cy="191.9" r="2" fill="url(#sh)"/><circle cx="702.1" cy="219.6" r="2" fill="#12a88e"/><circle cx="702.1" cy="219.6" r="2" fill="url(#sh)"/><circle cx="744.5" cy="219.8" r="2" fill="#12a98c"/><circle cx="744.5" cy="219.8" r="2" fill="url(#sh)"/><circle cx="787.1" cy="219.9" r="2" fill="#12a98c"/><circle cx="787.1" cy="219.9" r="2" fill="url(#sh)"/><circle cx="701.3" cy="268.0" r="2" fill="#12a88e"/><circle cx="701.3" cy="268.0" r="2" fill="url(#sh)"/><circle cx="744.1" cy="268.3" r="2" fill="#12a88e"/><circle cx="744.1" cy="268.3" r="2" fill="url(#sh)"/><circle cx="787.0" cy="268.6" r="2" fill="#12a88e"/><circle cx="787.0" cy="268.6" r="2" fill="url(#sh)"/><circle cx="700.7" cy="316.5" r="2" fill="#12a88e"/><circle cx="700.7" cy="316.5" r="2" fill="url(#sh)"/><circle cx="743.8" cy="316.9" r="2" fill="#12a88e"/><circle cx="743.8" cy="316.9" r="2" fill="url(#sh)"/><circle cx="786.9" cy="317.4" r="2" fill="#12a88e"/><circle cx="786.9" cy="317.4" r="2" fill="url(#sh)"/><circle cx="245.1" cy="344.1" r="2" fill="#12a98c"/><circle cx="245.1" cy="344.1" r="2" fill="url(#sh)"/><circle cx="292.6" cy="344.1" r="2" fill="#12a494"/><circle cx="292.6" cy="344.1" r="2" fill="url(#sh)"/><circle cx="339.5" cy="344.1" r="2" fill="#12a396"/><circle cx="339.5" cy="344.1" r="2" fill="url(#sh)"/><circle cx="247.7" cy="392.9" r="2" fill="#159ca0"/><circle cx="247.7" cy="392.9" r="2" fill="url(#sh)"/><circle cx="293.3" cy="392.7" r="2" fill="#159ca0"/><circle cx="293.3" cy="392.7" r="2" fill="url(#sh)"/><circle cx="338.6" cy="392.5" r="2" fill="#149d9e"/><circle cx="338.6" cy="392.5" r="2" fill="url(#sh)"/><circle cx="250.8" cy="440.9" r="2" fill="#1d8eaf"/><circle cx="250.8" cy="440.9" r="2" fill="url(#sh)"/><circle cx="294.6" cy="440.8" r="2" fill="#1895a8"/><circle cx="294.6" cy="440.8" r="2" fill="url(#sh)"/><circle cx="338.2" cy="440.7" r="2" fill="#1699a4"/><circle cx="338.2" cy="440.7" r="2" fill="url(#sh)"/><circle cx="366.0" cy="344.1" r="2" fill="#12a396"/><circle cx="366.0" cy="344.1" r="2" fill="url(#sh)"/><circle cx="410.3" cy="344.1" r="2" fill="#12a494"/><circle cx="410.3" cy="344.1" r="2" fill="url(#sh)"/><circle cx="453.7" cy="344.1" r="2" fill="#12a494"/><circle cx="453.7" cy="344.1" r="2" fill="url(#sh)"/><circle cx="364.5" cy="392.5" r="2" fill="#139f9c"/><circle cx="364.5" cy="392.5" r="2" fill="url(#sh)"/><circle cx="408.5" cy="392.4" r="2" fill="#13a09a"/><circle cx="408.5" cy="392.4" r="2" fill="url(#sh)"/><circle cx="452.0" cy="392.4" r="2" fill="#12a298"/><circle cx="452.0" cy="392.4" r="2" fill="url(#sh)"/><circle cx="363.5" cy="440.7" r="2" fill="#159ca0"/><circle cx="363.5" cy="440.7" r="2" fill="url(#sh)"/><circle cx="407.0" cy="440.7" r="2" fill="#139f9c"/><circle cx="407.0" cy="440.7" r="2" fill="url(#sh)"/><circle cx="450.3" cy="440.7" r="2" fill="#12a298"/><circle cx="450.3" cy="440.7" r="2" fill="url(#sh)"/><circle cx="478.8" cy="344.1" r="2" fill="#12a494"/><circle cx="478.8" cy="344.1" r="2" fill="url(#sh)"/><circle cx="521.9" cy="344.3" r="2" fill="#12a692"/><circle cx="521.9" cy="344.3" r="2" fill="url(#sh)"/><circle cx="564.7" cy="344.5" r="2" fill="#12a692"/><circle cx="564.7" cy="344.5" r="2" fill="url(#sh)"/><circle cx="477.1" cy="392.4" r="2" fill="#12a396"/><circle cx="477.1" cy="392.4" r="2" fill="url(#sh)"/><circle cx="520.4" cy="392.5" r="2" fill="#12a494"/><circle cx="520.4" cy="392.5" r="2" fill="url(#sh)"/><circle cx="563.6" cy="392.6" r="2" fill="#12a692"/><circle cx="563.6" cy="392.6" r="2" fill="url(#sh)"/><circle cx="475.6" cy="440.7" r="2" fill="#12a298"/><circle cx="475.6" cy="440.7" r="2" fill="url(#sh)"/><circle cx="519.1" cy="440.7" r="2" fill="#12a396"/><circle cx="519.1" cy="440.7" r="2" fill="url(#sh)"/><circle cx="562.6" cy="440.7" r="2" fill="#12a494"/><circle cx="562.6" cy="440.7" r="2" fill="url(#sh)"/><circle cx="589.6" cy="344.5" r="2" fill="#12a790"/><circle cx="589.6" cy="344.5" r="2" fill="url(#sh)"/><circle cx="632.5" cy="344.5" r="2" fill="#12a790"/><circle cx="632.5" cy="344.5" r="2" fill="url(#sh)"/><circle cx="675.4" cy="344.5" r="2" fill="#12a790"/><circle cx="675.4" cy="344.5" r="2" fill="url(#sh)"/><circle cx="588.7" cy="392.7" r="2" fill="#12a692"/><circle cx="588.7" cy="392.7" r="2" fill="url(#sh)"/><circle cx="631.9" cy="392.6" r="2" fill="#12a790"/><circle cx="631.9" cy="392.6" r="2" fill="url(#sh)"/><circle cx="675.1" cy="392.6" r="2" fill="#12a790"/><circle cx="675.1" cy="392.6" r="2" fill="url(#sh)"/><circle cx="587.9" cy="440.7" r="2" fill="#12a692"/><circle cx="587.9" cy="440.7" r="2" fill="url(#sh)"/><circle cx="631.4" cy="440.7" r="2" fill="#12a692"/><circle cx="631.4" cy="440.7" r="2" fill="url(#sh)"/><circle cx="674.9" cy="440.7" r="2" fill="#12a790"/><circle cx="674.9" cy="440.7" r="2" fill="url(#sh)"/><circle cx="700.5" cy="344.6" r="2" fill="#12a790"/><circle cx="700.5" cy="344.6" r="2" fill="url(#sh)"/><circle cx="743.6" cy="345.0" r="2" fill="#12a88e"/><circle cx="743.6" cy="345.0" r="2" fill="url(#sh)"/><circle cx="786.9" cy="345.5" r="2" fill="#12a88e"/><circle cx="786.9" cy="345.5" r="2" fill="url(#sh)"/><circle cx="700.2" cy="392.7" r="2" fill="#12a790"/><circle cx="700.2" cy="392.7" r="2" fill="url(#sh)"/><circle cx="743.5" cy="392.9" r="2" fill="#12a790"/><circle cx="743.5" cy="392.9" r="2" fill="url(#sh)"/><circle cx="786.9" cy="393.1" r="2" fill="#12a88e"/><circle cx="786.9" cy="393.1" r="2" fill="url(#sh)"/><circle cx="700.1" cy="440.7" r="2" fill="#12a790"/><circle cx="700.1" cy="440.7" r="2" fill="url(#sh)"/><circle cx="743.5" cy="440.8" r="2" fill="#12a790"/><circle cx="743.5" cy="440.8" r="2" fill="url(#sh)"/><circle cx="786.9" cy="440.8" r="2" fill="#12a88e"/><circle cx="786.9" cy="440.8" r="2" fill="url(#sh)"/><circle cx="56.8" cy="285.9" r="2" fill="#32b965"/><circle cx="56.8" cy="285.9" r="2" fill="url(#sh)"/><circle cx="72.3" cy="284.2" r="2" fill="#32b965"/><circle cx="72.3" cy="284.2" r="2" fill="url(#sh)"/><circle cx="88.3" cy="283.7" r="2" fill="#32b965"/><circle cx="88.3" cy="283.7" r="2" fill="url(#sh)"/><circle cx="56.8" cy="305.0" r="2" fill="#46bd54"/><circle cx="56.8" cy="305.0" r="2" fill="url(#sh)"/><circle cx="72.1" cy="303.3" r="2" fill="#46bd54"/><circle cx="72.1" cy="303.3" r="2" fill="url(#sh)"/><circle cx="87.5" cy="301.8" r="2" fill="#43bc56"/><circle cx="87.5" cy="301.8" r="2" fill="url(#sh)"/><circle cx="56.8" cy="324.1" r="2" fill="#66bf3a"/><circle cx="56.8" cy="324.1" r="2" fill="url(#sh)"/><circle cx="71.7" cy="321.7" r="2" fill="#63bf3c"/><circle cx="71.7" cy="321.7" r="2" fill="url(#sh)"/><circle cx="86.4" cy="319.2" r="2" fill="#5dbf41"/><circle cx="86.4" cy="319.2" r="2" fill="url(#sh)"/><circle cx="97.9" cy="283.8" r="2" fill="#35ba63"/><circle cx="97.9" cy="283.8" r="2" fill="url(#sh)"/><circle cx="114.8" cy="285.0" r="2" fill="#35ba63"/><circle cx="114.8" cy="285.0" r="2" fill="url(#sh)"/><circle cx="132.2" cy="287.2" r="2" fill="#35ba63"/><circle cx="132.2" cy="287.2" r="2" fill="url(#sh)"/><circle cx="96.5" cy="301.1" r="2" fill="#43bc56"/><circle cx="96.5" cy="301.1" r="2" fill="url(#sh)"/><circle cx="112.0" cy="300.1" r="2" fill="#40bc59"/><circle cx="112.0" cy="300.1" r="2" fill="url(#sh)"/><circle cx="127.7" cy="299.3" r="2" fill="#3dbb5b"/><circle cx="127.7" cy="299.3" r="2" fill="url(#sh)"/><circle cx="94.9" cy="317.6" r="2" fill="#58bf45"/><circle cx="94.9" cy="317.6" r="2" fill="url(#sh)"/><circle cx="109.3" cy="314.9" r="2" fill="#52be4a"/><circle cx="109.3" cy="314.9" r="2" fill="url(#sh)"/><circle cx="123.6" cy="312.0" r="2" fill="#49bd51"/><circle cx="123.6" cy="312.0" r="2" fill="url(#sh)"/><circle cx="93.8" cy="326.9" r="2" fill="#66bf3a"/><circle cx="93.8" cy="326.9" r="2" fill="url(#sh)"/><circle cx="107.8" cy="323.3" r="2" fill="#5dbf41"/><circle cx="107.8" cy="323.3" r="2" fill="url(#sh)"/><circle cx="121.4" cy="319.5" r="2" fill="#52be4a"/><circle cx="121.4" cy="319.5" r="2" fill="url(#sh)"/><circle cx="92.0" cy="342.3" r="2" fill="#7fbc2b"/><circle cx="92.0" cy="342.3" r="2" fill="url(#sh)"/><circle cx="105.1" cy="337.6" r="2" fill="#70bf33"/><circle cx="105.1" cy="337.6" r="2" fill="url(#sh)"/><circle cx="118.0" cy="332.8" r="2" fill="#60bf3f"/><circle cx="118.0" cy="332.8" r="2" fill="url(#sh)"/><circle cx="89.9" cy="356.9" r="2" fill="#98b227"/><circle cx="89.9" cy="356.9" r="2" fill="url(#sh)"/><circle cx="102.5" cy="351.6" r="2" fill="#81bc2a"/><circle cx="102.5" cy="351.6" r="2" fill="url(#sh)"/><circle cx="114.9" cy="346.6" r="2" fill="#70bf33"/><circle cx="114.9" cy="346.6" r="2" fill="url(#sh)"/><circle cx="54.6" cy="332.8" r="2" fill="#79be2e"/><circle cx="54.6" cy="332.8" r="2" fill="url(#sh)"/><circle cx="61.9" cy="331.4" r="2" fill="#77be2f"/><circle cx="61.9" cy="331.4" r="2" fill="url(#sh)"/><circle cx="69.3" cy="330.0" r="2" fill="#73bf32"/><circle cx="69.3" cy="330.0" r="2" fill="url(#sh)"/><circle cx="54.5" cy="342.4" r="2" fill="#8fb727"/><circle cx="54.5" cy="342.4" r="2" fill="url(#sh)"/><circle cx="61.8" cy="340.7" r="2" fill="#8bb827"/><circle cx="61.8" cy="340.7" r="2" fill="url(#sh)"/><circle cx="69.0" cy="338.9" r="2" fill="#85bb29"/><circle cx="69.0" cy="338.9" r="2" fill="url(#sh)"/><circle cx="54.5" cy="351.9" r="2" fill="#aca32a"/><circle cx="54.5" cy="351.9" r="2" fill="url(#sh)"/><circle cx="61.6" cy="349.8" r="2" fill="#a3ab28"/><circle cx="61.6" cy="349.8" r="2" fill="url(#sh)"/><circle cx="68.6" cy="347.7" r="2" fill="#9ab127"/><circle cx="68.6" cy="347.7" r="2" fill="url(#sh)"/><circle cx="73.5" cy="329.1" r="2" fill="#70bf33"/><circle cx="73.5" cy="329.1" r="2" fill="url(#sh)"/><circle cx="80.7" cy="327.6" r="2" fill="#6bbf37"/><circle cx="80.7" cy="327.6" r="2" fill="url(#sh)"/><circle cx="87.9" cy="326.0" r="2" fill="#69bf39"/><circle cx="87.9" cy="326.0" r="2" fill="url(#sh)"/><circle cx="73.1" cy="337.9" r="2" fill="#81bc2a"/><circle cx="73.1" cy="337.9" r="2" fill="url(#sh)"/><circle cx="80.2" cy="336.0" r="2" fill="#7bbd2d"/><circle cx="80.2" cy="336.0" r="2" fill="url(#sh)"/><circle cx="87.2" cy="334.1" r="2" fill="#75be30"/><circle cx="87.2" cy="334.1" r="2" fill="url(#sh)"/><circle cx="72.7" cy="346.4" r="2" fill="#94b427"/><circle cx="72.7" cy="346.4" r="2" fill="url(#sh)"/><circle cx="79.5" cy="344.3" r="2" fill="#8bb827"/><circle cx="79.5" cy="344.3" r="2" fill="url(#sh)"/><circle cx="86.4" cy="342.1" r="2" fill="#83bb29"/><circle cx="86.4" cy="342.1" r="2" fill="url(#sh)"/><circle cx="72.4" cy="351.4" r="2" fill="#a1ac28"/><circle cx="72.4" cy="351.4" r="2" fill="url(#sh)"/><circle cx="79.2" cy="349.0" r="2" fill="#94b427"/><circle cx="79.2" cy="349.0" r="2" fill="url(#sh)"/><circle cx="85.9" cy="346.6" r="2" fill="#8bb827"/><circle cx="85.9" cy="346.6" r="2" fill="url(#sh)"/><circle cx="71.8" cy="359.7" r="2" fill="#b7952c"/><circle cx="71.8" cy="359.7" r="2" fill="url(#sh)"/><circle cx="78.4" cy="356.9" r="2" fill="#a9a62a"/><circle cx="78.4" cy="356.9" r="2" fill="url(#sh)"/><circle cx="85.0" cy="354.2" r="2" fill="#9ab127"/><circle cx="85.0" cy="354.2" r="2" fill="url(#sh)"/><circle cx="71.2" cy="367.8" r="2" fill="#be6c1e"/><circle cx="71.2" cy="367.8" r="2" fill="url(#sh)"/><circle cx="77.6" cy="364.6" r="2" fill="#ba8f2b"/><circle cx="77.6" cy="364.6" r="2" fill="url(#sh)"/><circle cx="84.0" cy="361.6" r="2" fill="#aaa42a"/><circle cx="84.0" cy="361.6" r="2" fill="url(#sh)"/><circle cx="54.5" cy="357.5" r="2" fill="#b9902b"/><circle cx="54.5" cy="357.5" r="2" fill="url(#sh)"/><circle cx="61.4" cy="355.1" r="2" fill="#b29b2b"/><circle cx="61.4" cy="355.1" r="2" fill="url(#sh)"/><circle cx="68.4" cy="352.7" r="2" fill="#a7a729"/><circle cx="68.4" cy="352.7" r="2" fill="url(#sh)"/><circle cx="54.4" cy="367.1" r="2" fill="#b84f12"/><circle cx="54.4" cy="367.1" r="2" fill="url(#sh)"/><circle cx="61.2" cy="364.1" r="2" fill="#be6e1f"/><circle cx="61.2" cy="364.1" r="2" fill="url(#sh)"/><circle cx="67.9" cy="361.3" r="2" fill="#bc8a2a"/><circle cx="67.9" cy="361.3" r="2" fill="url(#sh)"/><circle cx="54.3" cy="376.6" r="2" fill="#680701"/><circle cx="54.3" cy="376.6" r="2" fill="url(#sh)"/><circle cx="60.9" cy="373.1" r="2" fill="#9e2504"/><circle cx="60.9" cy="373.1" r="2" fill="url(#sh)"/><circle cx="67.4" cy="369.7" r="2" fill="#b95113"/><circle cx="67.4" cy="369.7" r="2" fill="url(#sh)"/><circle cx="144.8" cy="294.1" r="2" fill="#35ba63"/><circle cx="144.8" cy="294.1" r="2" fill="url(#sh)"/><circle cx="177.2" cy="308.0" r="2" fill="#2db86a"/><circle cx="177.2" cy="308.0" r="2" fill="url(#sh)"/><circle cx="211.8" cy="328.4" r="2" fill="#18af81"/><circle cx="211.8" cy="328.4" r="2" fill="url(#sh)"/><circle cx="133.7" cy="317.9" r="2" fill="#49bd51"/><circle cx="133.7" cy="317.9" r="2" fill="url(#sh)"/><circle cx="159.4" cy="331.4" r="2" fill="#3abb5e"/><circle cx="159.4" cy="331.4" r="2" fill="url(#sh)"/><circle cx="186.3" cy="348.7" r="2" fill="#1cb17d"/><circle cx="186.3" cy="348.7" r="2" fill="url(#sh)"/><circle cx="124.5" cy="344.2" r="2" fill="#63bf3c"/><circle cx="124.5" cy="344.2" r="2" fill="url(#sh)"/><circle cx="142.5" cy="355.5" r="2" fill="#4fbe4c"/><circle cx="142.5" cy="355.5" r="2" fill="url(#sh)"/><circle cx="160.7" cy="368.0" r="2" fill="#1fb379"/><circle cx="160.7" cy="368.0" r="2" fill="url(#sh)"/><circle cx="57.3" cy="379.6" r="2" fill="#5c0302"/><circle cx="57.3" cy="379.6" r="2" fill="url(#sh)"/><circle cx="63.5" cy="376.2" r="2" fill="#851301"/><circle cx="63.5" cy="376.2" r="2" fill="url(#sh)"/><circle cx="69.6" cy="373.0" r="2" fill="#b03c0a"/><circle cx="69.6" cy="373.0" r="2" fill="url(#sh)"/><circle cx="66.8" cy="381.1" r="2" fill="#5c0302"/><circle cx="66.8" cy="381.1" r="2" fill="url(#sh)"/><circle cx="72.0" cy="378.8" r="2" fill="#941d02"/><circle cx="72.0" cy="378.8" r="2" fill="url(#sh)"/><circle cx="77.3" cy="376.5" r="2" fill="#b64a10"/><circle cx="77.3" cy="376.5" r="2" fill="url(#sh)"/><circle cx="75.2" cy="383.6" r="2" fill="#790d01"/><circle cx="75.2" cy="383.6" r="2" fill="url(#sh)"/><circle cx="79.6" cy="382.2" r="2" fill="#a83007"/><circle cx="79.6" cy="382.2" r="2" fill="url(#sh)"/><circle cx="84.2" cy="380.6" r="2" fill="#bd631b"/><circle cx="84.2" cy="380.6" r="2" fill="url(#sh)"/><circle cx="73.2" cy="371.1" r="2" fill="#bc5c18"/><circle cx="73.2" cy="371.1" r="2" fill="url(#sh)"/><circle cx="79.4" cy="367.8" r="2" fill="#bc8829"/><circle cx="79.4" cy="367.8" r="2" fill="url(#sh)"/><circle cx="85.7" cy="364.7" r="2" fill="#afa02b"/><circle cx="85.7" cy="364.7" r="2" fill="url(#sh)"/><circle cx="80.5" cy="374.8" r="2" fill="#be6a1d"/><circle cx="80.5" cy="374.8" r="2" fill="url(#sh)"/><circle cx="86.2" cy="371.6" r="2" fill="#b9922c"/><circle cx="86.2" cy="371.6" r="2" fill="url(#sh)"/><circle cx="92.0" cy="368.3" r="2" fill="#a6a829"/><circle cx="92.0" cy="368.3" r="2" fill="url(#sh)"/><circle cx="87.1" cy="379.2" r="2" fill="#be7f26"/><circle cx="87.1" cy="379.2" r="2" fill="url(#sh)"/><circle cx="92.5" cy="375.8" r="2" fill="#afa02b"/><circle cx="92.5" cy="375.8" r="2" fill="url(#sh)"/><circle cx="98.0" cy="372.3" r="2" fill="#9ab127"/><circle cx="98.0" cy="372.3" r="2" fill="url(#sh)"/><circle cx="91.5" cy="382.0" r="2" fill="#b9922c"/><circle cx="91.5" cy="382.0" r="2" fill="url(#sh)"/><circle cx="96.5" cy="378.6" r="2" fill="#a3ab28"/><circle cx="96.5" cy="378.6" r="2" fill="url(#sh)"/><circle cx="101.8" cy="374.9" r="2" fill="#8fb727"/><circle cx="101.8" cy="374.9" r="2" fill="url(#sh)"/><circle cx="100.0" cy="387.6" r="2" fill="#8fb727"/><circle cx="100.0" cy="387.6" r="2" fill="url(#sh)"/><circle cx="104.2" cy="383.9" r="2" fill="#7fbc2b"/><circle cx="104.2" cy="383.9" r="2" fill="url(#sh)"/><circle cx="108.7" cy="380.0" r="2" fill="#77be2f"/><circle cx="108.7" cy="380.0" r="2" fill="url(#sh)"/><circle cx="107.9" cy="393.8" r="2" fill="#43bc56"/><circle cx="107.9" cy="393.8" r="2" fill="url(#sh)"/><circle cx="111.5" cy="389.7" r="2" fill="#4cbe4f"/><circle cx="111.5" cy="389.7" r="2" fill="url(#sh)"/><circle cx="115.3" cy="385.4" r="2" fill="#52be4a"/><circle cx="115.3" cy="385.4" r="2" fill="url(#sh)"/><circle cx="81.0" cy="386.1" r="2" fill="#9c2303"/><circle cx="81.0" cy="386.1" r="2" fill="url(#sh)"/><circle cx="84.9" cy="384.9" r="2" fill="#b74c11"/><circle cx="84.9" cy="384.9" r="2" fill="url(#sh)"/><circle cx="88.9" cy="383.5" r="2" fill="#be7d25"/><circle cx="88.9" cy="383.5" r="2" fill="url(#sh)"/><circle cx="92.5" cy="392.2" r="2" fill="#bc8a2a"/><circle cx="92.5" cy="392.2" r="2" fill="url(#sh)"/><circle cx="95.1" cy="390.8" r="2" fill="#afa02b"/><circle cx="95.1" cy="390.8" r="2" fill="url(#sh)"/><circle cx="97.9" cy="389.2" r="2" fill="#9ab127"/><circle cx="97.9" cy="389.2" r="2" fill="url(#sh)"/><circle cx="102.9" cy="399.4" r="2" fill="#4fbe4c"/><circle cx="102.9" cy="399.4" r="2" fill="url(#sh)"/><circle cx="104.5" cy="397.6" r="2" fill="#46bd54"/><circle cx="104.5" cy="397.6" r="2" fill="url(#sh)"/><circle cx="106.3" cy="395.6" r="2" fill="#43bc56"/><circle cx="106.3" cy="395.6" r="2" fill="url(#sh)"/><circle cx="92.5" cy="363.0" r="2" fill="#9daf28"/><circle cx="92.5" cy="363.0" r="2" fill="url(#sh)"/><circle cx="104.4" cy="357.5" r="2" fill="#83bb29"/><circle cx="104.4" cy="357.5" r="2" fill="url(#sh)"/><circle cx="116.4" cy="352.3" r="2" fill="#70bf33"/><circle cx="116.4" cy="352.3" r="2" fill="url(#sh)"/><circle cx="104.0" cy="370.7" r="2" fill="#89b928"/><circle cx="104.0" cy="370.7" r="2" fill="url(#sh)"/><circle cx="113.9" cy="364.6" r="2" fill="#77be2f"/><circle cx="113.9" cy="364.6" r="2" fill="url(#sh)"/><circle cx="124.5" cy="357.9" r="2" fill="#69bf39"/><circle cx="124.5" cy="357.9" r="2" fill="url(#sh)"/><circle cx="116.4" cy="380.3" r="2" fill="#60bf3f"/><circle cx="116.4" cy="380.3" r="2" fill="url(#sh)"/><circle cx="124.1" cy="372.5" r="2" fill="#5dbf41"/><circle cx="124.1" cy="372.5" r="2" fill="url(#sh)"/><circle cx="132.7" cy="363.8" r="2" fill="#58bf45"/><circle cx="132.7" cy="363.8" r="2" fill="url(#sh)"/><circle cx="123.8" cy="386.9" r="2" fill="#21b476"/><circle cx="123.8" cy="386.9" r="2" fill="url(#sh)"/><circle cx="130.2" cy="377.6" r="2" fill="#2fb868"/><circle cx="130.2" cy="377.6" r="2" fill="url(#sh)"/><circle cx="137.6" cy="367.3" r="2" fill="#4cbe4f"/><circle cx="137.6" cy="367.3" r="2" fill="url(#sh)"/><circle cx="134.7" cy="398.1" r="2" fill="#139f9c"/><circle cx="134.7" cy="398.1" r="2" fill="url(#sh)"/><circle cx="140.0" cy="386.1" r="2" fill="#18af81"/><circle cx="140.0" cy="386.1" r="2" fill="url(#sh)"/><circle cx="145.9" cy="373.4" r="2" fill="#26b572"/><circle cx="145.9" cy="373.4" r="2" fill="url(#sh)"/><circle cx="143.3" cy="408.1" r="2" fill="#2584b8"/><circle cx="143.3" cy="408.1" r="2" fill="url(#sh)"/><circle cx="148.6" cy="393.8" r="2" fill="#12a494"/><circle cx="148.6" cy="393.8" r="2" fill="url(#sh)"/><circle cx="154.0" cy="379.3" r="2" fill="#18af81"/><circle cx="154.0" cy="379.3" r="2" fill="url(#sh)"/><circle cx="107.8" cy="403.8" r="2" fill="#159aa2"/><circle cx="107.8" cy="403.8" r="2" fill="url(#sh)"/><circle cx="109.1" cy="401.7" r="2" fill="#139f9c"/><circle cx="109.1" cy="401.7" r="2" fill="url(#sh)"/><circle cx="110.7" cy="399.5" r="2" fill="#12a494"/><circle cx="110.7" cy="399.5" r="2" fill="url(#sh)"/><circle cx="113.9" cy="411.7" r="2" fill="#344ba3"/><circle cx="113.9" cy="411.7" r="2" fill="url(#sh)"/><circle cx="115.5" cy="409.2" r="2" fill="#355eb7"/><circle cx="115.5" cy="409.2" r="2" fill="url(#sh)"/><circle cx="117.2" cy="406.5" r="2" fill="#3073bf"/><circle cx="117.2" cy="406.5" r="2" fill="url(#sh)"/><circle cx="118.9" cy="420.6" r="2" fill="#2e2a6d"/><circle cx="118.9" cy="420.6" r="2" fill="url(#sh)"/><circle cx="120.9" cy="417.5" r="2" fill="#2e2869"/><circle cx="120.9" cy="417.5" r="2" fill="url(#sh)"/><circle cx="123.1" cy="414.2" r="2" fill="#344ba3"/><circle cx="123.1" cy="414.2" r="2" fill="url(#sh)"/><circle cx="112.1" cy="397.6" r="2" fill="#12a88e"/><circle cx="112.1" cy="397.6" r="2" fill="url(#sh)"/><circle cx="115.4" cy="393.3" r="2" fill="#18af81"/><circle cx="115.4" cy="393.3" r="2" fill="url(#sh)"/><circle cx="119.0" cy="388.8" r="2" fill="#23b574"/><circle cx="119.0" cy="388.8" r="2" fill="url(#sh)"/><circle cx="118.6" cy="404.4" r="2" fill="#2682b9"/><circle cx="118.6" cy="404.4" r="2" fill="url(#sh)"/><circle cx="121.7" cy="399.7" r="2" fill="#159aa2"/><circle cx="121.7" cy="399.7" r="2" fill="url(#sh)"/><circle cx="125.0" cy="394.8" r="2" fill="#12a790"/><circle cx="125.0" cy="394.8" r="2" fill="url(#sh)"/><circle cx="124.6" cy="411.7" r="2" fill="#355eb7"/><circle cx="124.6" cy="411.7" r="2" fill="url(#sh)"/><circle cx="127.6" cy="406.5" r="2" fill="#297ebb"/><circle cx="127.6" cy="406.5" r="2" fill="url(#sh)"/><circle cx="130.8" cy="401.2" r="2" fill="#1895a8"/><circle cx="130.8" cy="401.2" r="2" fill="url(#sh)"/><circle cx="127.6" cy="415.9" r="2" fill="#354fa8"/><circle cx="127.6" cy="415.9" r="2" fill="url(#sh)"/><circle cx="130.5" cy="410.3" r="2" fill="#3171bf"/><circle cx="130.5" cy="410.3" r="2" fill="url(#sh)"/><circle cx="133.6" cy="404.6" r="2" fill="#208bb2"/><circle cx="133.6" cy="404.6" r="2" fill="url(#sh)"/><circle cx="131.9" cy="422.8" r="2" fill="#3449a1"/><circle cx="131.9" cy="422.8" r="2" fill="url(#sh)"/><circle cx="134.8" cy="416.5" r="2" fill="#355cb6"/><circle cx="134.8" cy="416.5" r="2" fill="url(#sh)"/><circle cx="137.8" cy="410.0" r="2" fill="#2b7abd"/><circle cx="137.8" cy="410.0" r="2" fill="url(#sh)"/><circle cx="135.7" cy="430.3" r="2" fill="#3552ad"/><circle cx="135.7" cy="430.3" r="2" fill="url(#sh)"/><circle cx="138.7" cy="423.0" r="2" fill="#344ba3"/><circle cx="138.7" cy="423.0" r="2" fill="url(#sh)"/><circle cx="141.7" cy="415.7" r="2" fill="#336bbe"/><circle cx="141.7" cy="415.7" r="2" fill="url(#sh)"/><circle cx="121.5" cy="426.4" r="2" fill="#3556b1"/><circle cx="121.5" cy="426.4" r="2" fill="url(#sh)"/><circle cx="123.7" cy="422.6" r="2" fill="#333d8f"/><circle cx="123.7" cy="422.6" r="2" fill="url(#sh)"/><circle cx="126.1" cy="418.7" r="2" fill="#323b8c"/><circle cx="126.1" cy="418.7" r="2" fill="url(#sh)"/><circle cx="125.2" cy="437.0" r="2" fill="#1d8eaf"/><circle cx="125.2" cy="437.0" r="2" fill="url(#sh)"/><circle cx="127.7" cy="431.7" r="2" fill="#3464bb"/><circle cx="127.7" cy="431.7" r="2" fill="url(#sh)"/><circle cx="130.3" cy="426.3" r="2" fill="#354fa8"/><circle cx="130.3" cy="426.3" r="2" fill="url(#sh)"/><circle cx="127.7" cy="448.8" r="2" fill="#12a494"/><circle cx="127.7" cy="448.8" r="2" fill="url(#sh)"/><circle cx="130.8" cy="441.7" r="2" fill="#297ebb"/><circle cx="130.8" cy="441.7" r="2" fill="url(#sh)"/><circle cx="133.9" cy="434.5" r="2" fill="#355cb6"/><circle cx="133.9" cy="434.5" r="2" fill="url(#sh)"/><circle cx="160.6" cy="378.7" r="2" fill="#17ae83"/><circle cx="160.6" cy="378.7" r="2" fill="url(#sh)"/><circle cx="175.1" cy="370.8" r="2" fill="#17ae83"/><circle cx="175.1" cy="370.8" r="2" fill="url(#sh)"/><circle cx="189.6" cy="362.5" r="2" fill="#16ad85"/><circle cx="189.6" cy="362.5" r="2" fill="url(#sh)"/><circle cx="155.6" cy="394.0" r="2" fill="#12a298"/><circle cx="155.6" cy="394.0" r="2" fill="url(#sh)"/><circle cx="171.3" cy="387.8" r="2" fill="#12a494"/><circle cx="171.3" cy="387.8" r="2" fill="url(#sh)"/><circle cx="187.1" cy="381.3" r="2" fill="#12a692"/><circle cx="187.1" cy="381.3" r="2" fill="url(#sh)"/><circle cx="150.3" cy="409.5" r="2" fill="#2584b8"/><circle cx="150.3" cy="409.5" r="2" fill="url(#sh)"/><circle cx="167.4" cy="404.9" r="2" fill="#1c90ad"/><circle cx="167.4" cy="404.9" r="2" fill="url(#sh)"/><circle cx="184.5" cy="400.2" r="2" fill="#1797a6"/><circle cx="184.5" cy="400.2" r="2" fill="url(#sh)"/><circle cx="198.0" cy="357.5" r="2" fill="#16ad85"/><circle cx="198.0" cy="357.5" r="2" fill="url(#sh)"/><circle cx="212.3" cy="348.7" r="2" fill="#15ac87"/><circle cx="212.3" cy="348.7" r="2" fill="url(#sh)"/><circle cx="226.6" cy="339.6" r="2" fill="#15ac87"/><circle cx="226.6" cy="339.6" r="2" fill="url(#sh)"/><circle cx="196.2" cy="377.4" r="2" fill="#12a790"/><circle cx="196.2" cy="377.4" r="2" fill="url(#sh)"/><circle cx="212.0" cy="370.6" r="2" fill="#12a790"/><circle cx="212.0" cy="370.6" r="2" fill="url(#sh)"/><circle cx="227.7" cy="363.6" r="2" fill="#12a790"/><circle cx="227.7" cy="363.6" r="2" fill="url(#sh)"/><circle cx="194.5" cy="397.3" r="2" fill="#1699a4"/><circle cx="194.5" cy="397.3" r="2" fill="url(#sh)"/><circle cx="211.7" cy="392.4" r="2" fill="#159ca0"/><circle cx="211.7" cy="392.4" r="2" fill="url(#sh)"/><circle cx="228.9" cy="387.3" r="2" fill="#149d9e"/><circle cx="228.9" cy="387.3" r="2" fill="url(#sh)"/><circle cx="193.5" cy="408.9" r="2" fill="#1e8db1"/><circle cx="193.5" cy="408.9" r="2" fill="url(#sh)"/><circle cx="211.6" cy="405.1" r="2" fill="#1994a9"/><circle cx="211.6" cy="405.1" r="2" fill="url(#sh)"/><circle cx="229.6" cy="401.1" r="2" fill="#1797a6"/><circle cx="229.6" cy="401.1" r="2" fill="url(#sh)"/><circle cx="191.8" cy="428.9" r="2" fill="#2f75bf"/><circle cx="191.8" cy="428.9" r="2" fill="url(#sh)"/><circle cx="211.4" cy="426.8" r="2" fill="#2682b9"/><circle cx="211.4" cy="426.8" r="2" fill="url(#sh)"/><circle cx="231.0" cy="424.6" r="2" fill="#1e8db1"/><circle cx="231.0" cy="424.6" r="2" fill="url(#sh)"/><circle cx="190.1" cy="448.9" r="2" fill="#355eb7"/><circle cx="190.1" cy="448.9" r="2" fill="url(#sh)"/><circle cx="211.3" cy="448.4" r="2" fill="#2f75bf"/><circle cx="211.3" cy="448.4" r="2" fill="url(#sh)"/><circle cx="232.5" cy="447.9" r="2" fill="#2485b7"/><circle cx="232.5" cy="447.9" r="2" fill="url(#sh)"/><circle cx="145.3" cy="416.8" r="2" fill="#336bbe"/><circle cx="145.3" cy="416.8" r="2" fill="url(#sh)"/><circle cx="154.2" cy="414.9" r="2" fill="#2e76be"/><circle cx="154.2" cy="414.9" r="2" fill="url(#sh)"/><circle cx="163.1" cy="413.0" r="2" fill="#2880ba"/><circle cx="163.1" cy="413.0" r="2" fill="url(#sh)"/><circle cx="142.4" cy="424.5" r="2" fill="#354da6"/><circle cx="142.4" cy="424.5" r="2" fill="url(#sh)"/><circle cx="151.6" cy="423.0" r="2" fill="#3560b9"/><circle cx="151.6" cy="423.0" r="2" fill="url(#sh)"/><circle cx="160.9" cy="421.5" r="2" fill="#336bbe"/><circle cx="160.9" cy="421.5" r="2" fill="url(#sh)"/><circle cx="139.4" cy="432.3" r="2" fill="#3551aa"/><circle cx="139.4" cy="432.3" r="2" fill="url(#sh)"/><circle cx="149.1" cy="431.1" r="2" fill="#34459b"/><circle cx="149.1" cy="431.1" r="2" fill="url(#sh)"/><circle cx="158.7" cy="430.0" r="2" fill="#3554af"/><circle cx="158.7" cy="430.0" r="2" fill="url(#sh)"/><circle cx="168.2" cy="411.8" r="2" fill="#2584b8"/><circle cx="168.2" cy="411.8" r="2" fill="url(#sh)"/><circle cx="177.1" cy="409.8" r="2" fill="#2189b4"/><circle cx="177.1" cy="409.8" r="2" fill="url(#sh)"/><circle cx="186.0" cy="407.8" r="2" fill="#1e8db1"/><circle cx="186.0" cy="407.8" r="2" fill="url(#sh)"/><circle cx="166.3" cy="420.6" r="2" fill="#3171bf"/><circle cx="166.3" cy="420.6" r="2" fill="url(#sh)"/><circle cx="175.5" cy="419.0" r="2" fill="#2d78be"/><circle cx="175.5" cy="419.0" r="2" fill="url(#sh)"/><circle cx="184.8" cy="417.4" r="2" fill="#2880ba"/><circle cx="184.8" cy="417.4" r="2" fill="url(#sh)"/><circle cx="164.3" cy="429.3" r="2" fill="#355cb6"/><circle cx="164.3" cy="429.3" r="2" fill="url(#sh)"/><circle cx="174.0" cy="428.2" r="2" fill="#3467bd"/><circle cx="174.0" cy="428.2" r="2" fill="url(#sh)"/><circle cx="183.6" cy="427.0" r="2" fill="#3171bf"/><circle cx="183.6" cy="427.0" r="2" fill="url(#sh)"/><circle cx="163.1" cy="434.5" r="2" fill="#3551aa"/><circle cx="163.1" cy="434.5" r="2" fill="url(#sh)"/><circle cx="173.0" cy="433.5" r="2" fill="#355eb7"/><circle cx="173.0" cy="433.5" r="2" fill="url(#sh)"/><circle cx="182.9" cy="432.6" r="2" fill="#3467bd"/><circle cx="182.9" cy="432.6" r="2" fill="url(#sh)"/><circle cx="161.1" cy="443.3" r="2" fill="#333d8f"/><circle cx="161.1" cy="443.3" r="2" fill="url(#sh)"/><circle cx="171.4" cy="442.8" r="2" fill="#354da6"/><circle cx="171.4" cy="442.8" r="2" fill="url(#sh)"/><circle cx="181.7" cy="442.2" r="2" fill="#355ab4"/><circle cx="181.7" cy="442.2" r="2" fill="url(#sh)"/><circle cx="159.1" cy="452.1" r="2" fill="#2f2c71"/><circle cx="159.1" cy="452.1" r="2" fill="url(#sh)"/><circle cx="169.8" cy="452.0" r="2" fill="#333f92"/><circle cx="169.8" cy="452.0" r="2" fill="url(#sh)"/><circle cx="180.5" cy="451.9" r="2" fill="#3551aa"/><circle cx="180.5" cy="451.9" r="2" fill="url(#sh)"/><circle cx="137.7" cy="436.8" r="2" fill="#3558b2"/><circle cx="137.7" cy="436.8" r="2" fill="url(#sh)"/><circle cx="147.5" cy="435.9" r="2" fill="#34459b"/><circle cx="147.5" cy="435.9" r="2" fill="url(#sh)"/><circle cx="157.4" cy="435.0" r="2" fill="#3449a1"/><circle cx="157.4" cy="435.0" r="2" fill="url(#sh)"/><circle cx="134.6" cy="444.6" r="2" fill="#316fbf"/><circle cx="134.6" cy="444.6" r="2" fill="url(#sh)"/><circle cx="144.8" cy="444.1" r="2" fill="#344ba3"/><circle cx="144.8" cy="444.1" r="2" fill="url(#sh)"/><circle cx="155.1" cy="443.6" r="2" fill="#313685"/><circle cx="155.1" cy="443.6" r="2" fill="url(#sh)"/><circle cx="131.4" cy="452.4" r="2" fill="#1d8eaf"/><circle cx="131.4" cy="452.4" r="2" fill="url(#sh)"/><circle cx="142.1" cy="452.3" r="2" fill="#3554af"/><circle cx="142.1" cy="452.3" r="2" fill="url(#sh)"/><circle cx="152.8" cy="452.2" r="2" fill="#313481"/><circle cx="152.8" cy="452.2" r="2" fill="url(#sh)"/></g>
<rect x="101.2" y="55.5" width="656.8" height="20.2" fill="url(#gt)"/>
<text transform="translate(101.60 37.30) scale(1.148 1)" font-size="13.7" text-anchor="end" font-family="Liberation Mono, monospace" font-weight="bold">0.0</text>
<text transform="translate(144.86 37.30) scale(1.148 1)" font-size="13.7" text-anchor="end" font-family="Liberation Mono, monospace" font-weight="bold">0.2</text>
<text transform="translate(188.12 37.30) scale(1.148 1)" font-size="13.7" text-anchor="end" font-family="Liberation Mono, monospace" font-weight="bold">0.4</text>
<text transform="translate(231.38 37.30) scale(1.148 1)" font-size="13.7" text-anchor="end" font-family="Liberation Mono, monospace" font-weight="bold">0.6</text>
<text transform="translate(274.64 37.30) scale(1.148 1)" font-size="13.7" text-anchor="end" font-family="Liberation Mono, monospace" font-weight="bold">0.8</text>
<text transform="translate(317.90 37.30) scale(1.148 1)" font-size="13.7" text-anchor="end" font-family="Liberation Mono, monospace" font-weight="bold">1.0</text>
<text transform="translate(361.16 37.30) scale(1.148 1)" font-size="13.7" text-anchor="end" font-family="Liberation Mono, monospace" font-weight="bold">1.2</text>
<text transform="translate(404.42 37.30) scale(1.148 1)" font-size="13.7" text-anchor="end" font-family="Liberation Mono, monospace" font-weight="bold">1.4</text>
<text transform="translate(447.68 37.30) scale(1.148 1)" font-size="13.7" text-anchor="end" font-family="Liberation Mono, monospace" font-weight="bold">1.6</text>
<text transform="translate(490.94 37.30) scale(1.148 1)" font-size="13.7" text-anchor="end" font-family="Liberation Mono, monospace" font-weight="bold">1.8</text>
<text transform="translate(534.20 37.30) scale(1.148 1)" font-size="13.7" text-anchor="end" font-family="Liberation Mono, monospace" font-weight="bold">2.0</text>
<text transform="translate(577.46 37.30) scale(1.148 1)" font-size="13.7" text-anchor="end" font-family="Liberation Mono, monospace" font-weight="bold">2.2</text>
<text transform="translate(620.72 37.30) scale(1.148 1)" font-size="13.7" text-anchor="end" font-family="Liberation Mono, monospace" font-weight="bold">2.4</text>
<text transform="translate(663.98 37.30) scale(1.148 1)" font-size="13.7" text-anchor="end" font-family="Liberation Mono, monospace" font-weight="bold">2.6</text>
<text transform="translate(707.24 37.30) scale(1.148 1)" font-size="13.7" text-anchor="end" font-family="Liberation Mono, monospace" font-weight="bold">2.8</text>
<text transform="translate(750.50 37.30) scale(1.148 1)" font-size="13.7" text-anchor="end" font-family="Liberation Mono, monospace" font-weight="bold">3.0</text>
<text transform="translate(425.40 13.10) scale(1.326 1)" font-size="16.0" text-anchor="middle" font-family="Liberation Mono, monospace" font-weight="bold">Maximum Principal Stress</text>
<rect x="111.2" y="519.6" width="657.0" height="25.4" fill="url(#go)"/>
<text transform="translate(106.40 501.10) scale(1.148 1)" font-size="13.7" text-anchor="middle" font-family="Liberation Mono, monospace" font-weight="bold">0.000</text>
<text transform="translate(176.32 501.10) scale(1.148 1)" font-size="13.7" text-anchor="middle" font-family="Liberation Mono, monospace" font-weight="bold">0.005</text>
<text transform="translate(246.24 501.10) scale(1.148 1)" font-size="13.7" text-anchor="middle" font-family="Liberation Mono, monospace" font-weight="bold">0.010</text>
<text transform="translate(316.16 501.10) scale(1.148 1)" font-size="13.7" text-anchor="middle" font-family="Liberation Mono, monospace" font-weight="bold">0.015</text>
<text transform="translate(386.08 501.10) scale(1.148 1)" font-size="13.7" text-anchor="middle" font-family="Liberation Mono, monospace" font-weight="bold">0.020</text>
<text transform="translate(456.00 501.10) scale(1.148 1)" font-size="13.7" text-anchor="middle" font-family="Liberation Mono, monospace" font-weight="bold">0.025</text>
<text transform="translate(525.92 501.10) scale(1.148 1)" font-size="13.7" text-anchor="middle" font-family="Liberation Mono, monospace" font-weight="bold">0.030</text>
<text transform="translate(595.84 501.10) scale(1.148 1)" font-size="13.7" text-anchor="middle" font-family="Liberation Mono, monospace" font-weight="bold">0.035</text>
<text transform="translate(665.76 501.10) scale(1.148 1)" font-size="13.7" text-anchor="middle" font-family="Liberation Mono, monospace" font-weight="bold">0.040</text>
<text transform="translate(735.68 501.10) scale(1.148 1)" font-size="13.7" text-anchor="middle" font-family="Liberation Mono, monospace" font-weight="bold">0.045</text>
<text transform="translate(425.30 478.10) scale(1.326 1)" font-size="16.0" text-anchor="middle" font-family="Liberation Mono, monospace" font-weight="bold">x-Displacement</text>
<path d="M101.10 45.8V59.2M144.36 45.8V59.2M187.62 45.8V59.2M230.88 45.8V59.2M274.14 45.8V59.2M317.40 45.8V59.2M360.66 45.8V59.2M403.92 45.8V59.2M447.18 45.8V59.2M490.44 45.8V59.2M533.70 45.8V59.2M576.96 45.8V59.2M620.22 45.8V59.2M663.48 45.8V59.2M706.74 45.8V59.2M750.00 45.8V59.2M111.00 510.9V523.8M180.92 510.9V523.8M250.84 510.9V523.8M320.76 510.9V523.8M390.68 510.9V523.8M460.60 510.9V523.8M530.52 510.9V523.8M600.44 510.9V523.8M670.36 510.9V523.8M740.28 510.9V523.8" stroke="#000" stroke-width="1" fill="none" opacity="0.8"/>
<g><path d="M3.7 470.5V443.5" stroke="#ffff40" stroke-width="1.1"/><path d="M3.7 436.6L6.1 443.6H1.3Z" fill="#d8d800" stroke="#77770a" stroke-width="0.4"/><path d="M7 473.9H34" stroke="#ff7a7a" stroke-width="1.1"/><path d="M7 473.9H12.2" stroke="#555" stroke-width="1.1"/><path d="M41.8 473.9L33.9 471.5V476.3Z" fill="#e60000"/><circle cx="3.6" cy="473.9" r="3.5" fill="#005a14"/><text x="5.3" y="443.4" font-size="10.8" font-family="Liberation Sans, sans-serif">Y</text><text x="6" y="472.3" font-size="9.5" font-style="italic" font-family="Liberation Sans, sans-serif">Z</text><text x="36.9" y="474" font-size="10" font-family="Liberation Sans, sans-serif">X</text></g>
</svg></body></html>
